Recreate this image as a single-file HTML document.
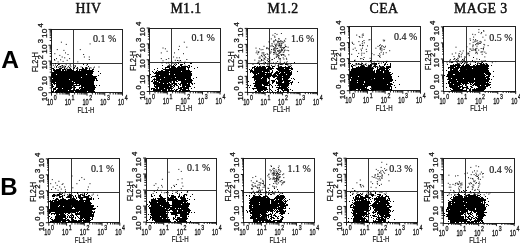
<!DOCTYPE html>
<html lang="en"><head><meta charset="utf-8"><title>FACS dot plots</title>
<style>html,body{margin:0;padding:0;background:#fff}svg{display:block}</style></head>
<body>
<svg width="520" height="244" viewBox="0 0 520 244">
<rect width="520" height="244" fill="#fff"/>
<defs><filter id="sf" x="-5%" y="-5%" width="110%" height="110%"><feGaussianBlur stdDeviation="0.45"/></filter></defs>
<g font-family="'Liberation Serif', 'Times New Roman', serif" font-size="13.8" text-anchor="middle" fill="#111" stroke="#111" stroke-width="0.45" letter-spacing="0.4">
<text x="88.4" y="13.3">HIV</text>
<text x="186" y="13.3">M1.1</text>
<text x="283" y="13.3">M1.2</text>
<text x="384" y="13.3">CEA</text>
<text x="480.8" y="13.3">MAGE 3</text>
</g>
<g font-family="'Liberation Sans', Arial, sans-serif" font-weight="bold" font-size="24" fill="#000">
<text transform="translate(1.2 67.8) scale(1.07 1)" font-size="23">A</text>
<text x="0.2" y="194.8">B</text>
</g>
<g>
<rect x="51.5" y="29.5" width="71" height="63" fill="none" stroke="#222" stroke-width="1"/>
<path d="M73.5 29.5V92.5M51.5 63.5H122.5" stroke="#2a2a2a" stroke-width="0.95" fill="none"/>
<path d="M54 59.5h1M55 63.5h1M58 64.5h1M83 64.5h1M87 64.5h1M57 65.5h1M62 65.5h1M56 66.5h1M60 66.5h1M65 66.5h1M88 66.5h1M62 67.5h1M69 67.5h1M74 67.5h1M77 67.5h1M82 67.5h1M86 67.5h1M52 68.5h2M59 68.5h3M64 68.5h1M70 68.5h1M73 68.5h1M82 68.5h2M85 68.5h2M89 68.5h1M53 69.5h2M56 69.5h5M62 69.5h4M67 69.5h5M77 69.5h1M79 69.5h8M89 69.5h1M92 69.5h2M53 70.5h8M62 70.5h2M65 70.5h1M67 70.5h7M76 70.5h2M79 70.5h1M81 70.5h12M54 71.5h40M98 71.5h1M52 72.5h41M52 73.5h41M100 73.5h1M51 74.5h5M57 74.5h29M87 74.5h5M51 75.5h42M98 75.5h1M51 76.5h46M51 77.5h30M82 77.5h14M51 78.5h1M53 78.5h44M51 79.5h18M70 79.5h25M96 79.5h1M52 80.5h43M96 80.5h2M51 81.5h21M73 81.5h21M51 82.5h4M56 82.5h18M75 82.5h19M51 83.5h1M53 83.5h41M51 84.5h2M54 84.5h1M56 84.5h17M76 84.5h1M79 84.5h15M52 85.5h1M56 85.5h17M74 85.5h6M81 85.5h14M96 85.5h1M99 85.5h1M52 86.5h2M56 86.5h16M73 86.5h2M81 86.5h14M52 87.5h1M55 87.5h18M74 87.5h2M79 87.5h4M84 87.5h12M53 88.5h3M58 88.5h4M63 88.5h9M74 88.5h1M79 88.5h1M81 88.5h14M53 89.5h3M57 89.5h14M73 89.5h2M76 89.5h3M80 89.5h15M51 90.5h1M53 90.5h1M56 90.5h12M69 90.5h25M51 91.5h3M55 91.5h19M75 91.5h12M88 91.5h7M52 92.5h1M55 92.5h5M61 92.5h2M64 92.5h6M71 92.5h3M76 92.5h13M91 92.5h2M94 92.5h1" stroke="#000" stroke-width="1" fill="none" filter="url(#sf)"/>
<path d="M55.0 65.1h1M64.6 67.9h1M56.1 67.5h1M65.7 64.8h1M52.9 65.2h1M62.4 66.3h1M65.9 70.2h1M74.0 68.1h1M70.4 66.7h1M58.9 64.3h1M63.8 67.5h1M69.6 65.0h1M58.0 67.3h1M60.4 67.4h1M69.9 65.0h1M69.3 68.1h1M54.1 67.1h1M66.1 68.6h1M61.2 65.9h1M58.9 66.8h1M74.8 66.5h1M63.3 67.0h1M68.0 66.4h1M63.7 66.1h1M86.2 65.3h1M87.1 68.3h1M67.2 67.8h1M81.3 70.3h1M85.1 67.5h1M93.0 68.1h1M90.6 68.0h1M86.9 68.1h1M98.5 67.0h1M89.5 67.6h1M80.6 66.9h1M75.0 65.8h1M94.0 67.1h1M76.2 68.4h1M77.3 68.5h1M73.4 65.5h1M76.2 68.5h1M60.9 42.2h1M65.8 44.4h1M56.8 49.6h1M63.4 50.4h1M54.3 53.7h1M65.0 52.9h1M59.3 55.4h1M67.5 54.5h1M61.7 57.0h1M56.0 58.6h1M64.2 57.8h1M69.1 58.6h1M60.1 59.8h1M66.7 60.3h1M54.3 60.3h1M62.6 61.4h1M57.6 61.9h1M79.8 49.6h1M83.1 54.5h1M83.9 57.0h1M88.8 57.0h1M88.8 59.5h1M77.3 61.9h1M89.6 43.9h1" stroke="#1a1a1a" stroke-width="1" fill="none"/>
<path d="M51.50 92.70v3M51.50 92.70h-3M56.84 92.70v1.8M51.50 87.94h-1.8M59.97 92.70v1.8M51.50 85.15h-1.8M62.19 92.70v1.8M51.50 83.17h-1.8M63.91 92.70v1.8M51.50 81.64h-1.8M65.31 92.70v1.8M51.50 80.39h-1.8M66.50 92.70v1.8M51.50 79.33h-1.8M67.53 92.70v1.8M51.50 78.41h-1.8M68.44 92.70v1.8M51.50 77.60h-1.8M69.25 92.70v3M51.50 76.88h-3M74.59 92.70v1.8M51.50 72.11h-1.8M77.72 92.70v1.8M51.50 69.32h-1.8M79.94 92.70v1.8M51.50 67.35h-1.8M81.66 92.70v1.8M51.50 65.81h-1.8M83.06 92.70v1.8M51.50 64.56h-1.8M84.25 92.70v1.8M51.50 63.50h-1.8M85.28 92.70v1.8M51.50 62.58h-1.8M86.19 92.70v1.8M51.50 61.77h-1.8M87.00 92.70v3M51.50 61.05h-3M92.34 92.70v1.8M51.50 56.29h-1.8M95.47 92.70v1.8M51.50 53.50h-1.8M97.69 92.70v1.8M51.50 51.52h-1.8M99.41 92.70v1.8M51.50 49.99h-1.8M100.81 92.70v1.8M51.50 48.74h-1.8M102.00 92.70v1.8M51.50 47.68h-1.8M103.03 92.70v1.8M51.50 46.76h-1.8M103.94 92.70v1.8M51.50 45.95h-1.8M104.75 92.70v3M51.50 45.23h-3M110.09 92.70v1.8M51.50 40.46h-1.8M113.22 92.70v1.8M51.50 37.67h-1.8M115.44 92.70v1.8M51.50 35.70h-1.8M117.16 92.70v1.8M51.50 34.16h-1.8M118.56 92.70v1.8M51.50 32.91h-1.8M119.75 92.70v1.8M51.50 31.85h-1.8M120.78 92.70v1.8M51.50 30.93h-1.8M121.69 92.70v1.8M51.50 30.12h-1.8M122.50 92.70v3M51.50 29.40h-3" stroke="#111" stroke-width="0.95" fill="none"/>
<g font-family="'Liberation Sans', Arial, sans-serif" font-weight="normal" stroke="#111" stroke-width="0.3" fill="#111">
<text transform="translate(47.00 105.40) scale(0.66 1)" font-size="8.5">10</text>
<text transform="translate(53.80 100.30) scale(0.75 1)" font-size="7">0</text>
<text transform="translate(64.75 105.40) scale(0.66 1)" font-size="8.5">10</text>
<text transform="translate(71.55 100.30) scale(0.75 1)" font-size="7">1</text>
<text transform="translate(82.50 105.40) scale(0.66 1)" font-size="8.5">10</text>
<text transform="translate(89.30 100.30) scale(0.75 1)" font-size="7">2</text>
<text transform="translate(100.25 105.40) scale(0.66 1)" font-size="8.5">10</text>
<text transform="translate(107.05 100.30) scale(0.75 1)" font-size="7">3</text>
<text transform="translate(118.00 105.40) scale(0.66 1)" font-size="8.5">10</text>
<text transform="translate(124.80 100.30) scale(0.75 1)" font-size="7">4</text>
<text transform="translate(86.00 112.60) scale(0.7 1)" font-size="8.7" stroke-width="0.2" text-anchor="middle">FL1-H</text>
<text transform="translate(46.60 101.20) scale(0.85 1) rotate(-90)" font-size="8.3">10</text>
<text transform="translate(42.50 90.80) scale(0.9 1) rotate(-90)" font-size="7.6">0</text>
<text transform="translate(46.60 85.38) scale(0.85 1) rotate(-90)" font-size="8.3">10</text>
<text transform="translate(46.60 69.55) scale(0.85 1) rotate(-90)" font-size="8.3">10</text>
<text transform="translate(42.50 59.15) scale(0.9 1) rotate(-90)" font-size="7.6">2</text>
<text transform="translate(46.60 53.73) scale(0.85 1) rotate(-90)" font-size="8.3">10</text>
<text transform="translate(42.50 43.33) scale(0.9 1) rotate(-90)" font-size="7.6">3</text>
<text transform="translate(46.60 37.90) scale(0.85 1) rotate(-90)" font-size="8.3">10</text>
<text transform="translate(42.50 27.50) scale(0.9 1) rotate(-90)" font-size="7.6">4</text>
<text transform="translate(38.20 62.05) rotate(-90) scale(0.9 1.05)" font-size="8" stroke-width="0.2" text-anchor="middle">FL2-H</text>
</g>
<text x="93" y="42.3" font-family="'Liberation Serif', 'Times New Roman', serif" font-size="10" fill="#111" stroke="#111" stroke-width="0.15">0.1 %</text>
</g>
<g>
<rect x="149.5" y="28.5" width="71" height="63" fill="none" stroke="#222" stroke-width="1"/>
<path d="M171.5 28.5V91.5M149.5 62.5H220.5" stroke="#2a2a2a" stroke-width="0.95" fill="none"/>
<path d="M177 60.5h1M180 60.5h1M177 62.5h1M178 63.5h1M184 63.5h1M190 63.5h2M174 64.5h1M176 64.5h1M180 64.5h3M162 65.5h1M173 65.5h1M175 65.5h1M180 65.5h2M188 65.5h2M167 66.5h3M171 66.5h4M178 66.5h2M181 66.5h7M189 66.5h1M191 66.5h1M165 67.5h5M171 67.5h5M177 67.5h9M187 67.5h3M197 67.5h1M157 68.5h1M162 68.5h1M165 68.5h1M169 68.5h17M188 68.5h1M194 68.5h1M154 69.5h1M163 69.5h23M188 69.5h1M157 70.5h1M161 70.5h2M165 70.5h25M152 71.5h1M156 71.5h1M158 71.5h11M170 71.5h11M182 71.5h10M153 72.5h1M155 72.5h36M154 73.5h15M170 73.5h22M150 74.5h1M156 74.5h13M170 74.5h4M175 74.5h17M155 75.5h4M160 75.5h32M152 76.5h39M151 77.5h1M156 77.5h8M165 77.5h10M176 77.5h15M196 77.5h1M154 78.5h1M156 78.5h15M172 78.5h19M193 78.5h1M153 79.5h7M161 79.5h24M186 79.5h6M152 80.5h1M154 80.5h1M156 80.5h21M178 80.5h15M151 81.5h2M154 81.5h3M158 81.5h13M173 81.5h2M176 81.5h2M181 81.5h11M153 82.5h6M160 82.5h9M170 82.5h1M173 82.5h2M181 82.5h11M153 83.5h10M164 83.5h3M168 83.5h2M172 83.5h5M178 83.5h1M180 83.5h7M188 83.5h2M191 83.5h2M194 83.5h1M154 84.5h17M172 84.5h1M174 84.5h3M179 84.5h2M182 84.5h8M192 84.5h1M154 85.5h1M156 85.5h15M173 85.5h2M176 85.5h2M180 85.5h1M182 85.5h8M154 86.5h15M170 86.5h3M174 86.5h1M178 86.5h1M182 86.5h3M186 86.5h5M155 87.5h3M159 87.5h12M173 87.5h1M178 87.5h1M180 87.5h9M194 87.5h1M151 88.5h4M156 88.5h2M159 88.5h5M165 88.5h8M178 88.5h4M183 88.5h6M191 88.5h1M151 89.5h1M153 89.5h14M168 89.5h2M171 89.5h1M174 89.5h1M176 89.5h2M180 89.5h6M188 89.5h1M153 90.5h8M162 90.5h5M168 90.5h6M175 90.5h2M179 90.5h2M182 90.5h8M156 91.5h1M158 91.5h1M160 91.5h1M162 91.5h6M172 91.5h1M175 91.5h1M177 91.5h1M179 91.5h1M181 91.5h7M190 91.5h1" stroke="#000" stroke-width="1" fill="none" filter="url(#sf)"/>
<path d="M178.8 62.2h1M175.2 63.3h1M171.0 62.1h1M184.5 62.1h1M168.1 62.4h1M167.9 65.6h1M165.9 63.1h1M178.4 60.7h1M174.2 64.1h1M167.7 63.1h1M169.2 65.5h1M170.0 65.8h1M169.1 64.3h1M175.8 62.7h1M175.5 62.4h1M169.7 62.5h1M180.6 62.2h1M161.5 62.9h1M172.5 63.5h1M171.7 62.3h1M184.5 65.2h1M162.5 48.0h1M164.9 48.8h1M160.8 52.9h1M166.6 51.3h1M160.8 58.6h1M165.8 59.5h1M168.2 58.6h1M162.5 60.8h1M183.8 42.2h1M178.9 46.3h1M186.3 47.2h1M178.1 49.6h1M174.0 52.9h1M183.0 53.7h1M173.1 57.0h1M176.4 57.8h1M178.9 57.8h1M186.3 59.5h1M174.8 60.3h1" stroke="#1a1a1a" stroke-width="1" fill="none"/>
<path d="M149.70 91.50v3M149.70 91.50h-3M155.00 91.50v1.8M149.70 86.72h-1.8M158.10 91.50v1.8M149.70 83.93h-1.8M160.30 91.50v1.8M149.70 81.94h-1.8M162.00 91.50v1.8M149.70 80.40h-1.8M163.40 91.50v1.8M149.70 79.15h-1.8M164.57 91.50v1.8M149.70 78.08h-1.8M165.59 91.50v1.8M149.70 77.16h-1.8M166.49 91.50v1.8M149.70 76.35h-1.8M167.30 91.50v3M149.70 75.62h-3M172.60 91.50v1.8M149.70 70.85h-1.8M175.70 91.50v1.8M149.70 68.05h-1.8M177.90 91.50v1.8M149.70 66.07h-1.8M179.60 91.50v1.8M149.70 64.53h-1.8M181.00 91.50v1.8M149.70 63.27h-1.8M182.17 91.50v1.8M149.70 62.21h-1.8M183.19 91.50v1.8M149.70 61.29h-1.8M184.09 91.50v1.8M149.70 60.48h-1.8M184.90 91.50v3M149.70 59.75h-3M190.20 91.50v1.8M149.70 54.97h-1.8M193.30 91.50v1.8M149.70 52.18h-1.8M195.50 91.50v1.8M149.70 50.19h-1.8M197.20 91.50v1.8M149.70 48.65h-1.8M198.60 91.50v1.8M149.70 47.40h-1.8M199.77 91.50v1.8M149.70 46.33h-1.8M200.79 91.50v1.8M149.70 45.41h-1.8M201.69 91.50v1.8M149.70 44.60h-1.8M202.50 91.50v3M149.70 43.88h-3M207.80 91.50v1.8M149.70 39.10h-1.8M210.90 91.50v1.8M149.70 36.30h-1.8M213.10 91.50v1.8M149.70 34.32h-1.8M214.80 91.50v1.8M149.70 32.78h-1.8M216.20 91.50v1.8M149.70 31.52h-1.8M217.37 91.50v1.8M149.70 30.46h-1.8M218.39 91.50v1.8M149.70 29.54h-1.8M219.29 91.50v1.8M149.70 28.73h-1.8M220.10 91.50v3M149.70 28.00h-3" stroke="#111" stroke-width="0.95" fill="none"/>
<g font-family="'Liberation Sans', Arial, sans-serif" font-weight="normal" stroke="#111" stroke-width="0.3" fill="#111">
<text transform="translate(145.20 104.20) scale(0.66 1)" font-size="8.5">10</text>
<text transform="translate(152.00 99.10) scale(0.75 1)" font-size="7">0</text>
<text transform="translate(162.80 104.20) scale(0.66 1)" font-size="8.5">10</text>
<text transform="translate(169.60 99.10) scale(0.75 1)" font-size="7">1</text>
<text transform="translate(180.40 104.20) scale(0.66 1)" font-size="8.5">10</text>
<text transform="translate(187.20 99.10) scale(0.75 1)" font-size="7">2</text>
<text transform="translate(198.00 104.20) scale(0.66 1)" font-size="8.5">10</text>
<text transform="translate(204.80 99.10) scale(0.75 1)" font-size="7">3</text>
<text transform="translate(215.60 104.20) scale(0.66 1)" font-size="8.5">10</text>
<text transform="translate(222.40 99.10) scale(0.75 1)" font-size="7">4</text>
<text transform="translate(183.90 111.40) scale(0.7 1)" font-size="8.7" stroke-width="0.2" text-anchor="middle">FL1-H</text>
<text transform="translate(144.80 100.00) scale(0.85 1) rotate(-90)" font-size="8.3">10</text>
<text transform="translate(140.70 89.60) scale(0.9 1) rotate(-90)" font-size="7.6">0</text>
<text transform="translate(144.80 84.12) scale(0.85 1) rotate(-90)" font-size="8.3">10</text>
<text transform="translate(144.80 68.25) scale(0.85 1) rotate(-90)" font-size="8.3">10</text>
<text transform="translate(140.70 57.85) scale(0.9 1) rotate(-90)" font-size="7.6">2</text>
<text transform="translate(144.80 52.38) scale(0.85 1) rotate(-90)" font-size="8.3">10</text>
<text transform="translate(140.70 41.98) scale(0.9 1) rotate(-90)" font-size="7.6">3</text>
<text transform="translate(144.80 36.50) scale(0.85 1) rotate(-90)" font-size="8.3">10</text>
<text transform="translate(140.70 26.10) scale(0.9 1) rotate(-90)" font-size="7.6">4</text>
<text transform="translate(136.40 60.75) rotate(-90) scale(0.9 1.05)" font-size="8" stroke-width="0.2" text-anchor="middle">FL2-H</text>
</g>
<text x="191.5" y="41.2" font-family="'Liberation Serif', 'Times New Roman', serif" font-size="10" fill="#111" stroke="#111" stroke-width="0.15">0.1 %</text>
</g>
<g>
<rect x="247.5" y="28.5" width="70" height="64" fill="none" stroke="#222" stroke-width="1"/>
<path d="M269.5 28.5V92.5M247.5 63.5H317.5" stroke="#2a2a2a" stroke-width="0.95" fill="none"/>
<path d="M269 57.5h1M261 59.5h1M269 60.5h1M268 61.5h1M265 62.5h1M294 62.5h1M257 63.5h1M261 63.5h1M283 63.5h1M291 63.5h1M259 64.5h1M280 64.5h1M285 64.5h2M278 65.5h1M254 66.5h2M257 66.5h1M259 66.5h2M262 66.5h3M266 66.5h4M272 66.5h3M278 66.5h1M280 66.5h2M285 66.5h1M288 66.5h3M252 67.5h3M256 67.5h10M268 67.5h3M272 67.5h1M278 67.5h12M291 67.5h1M252 68.5h1M254 68.5h12M267 68.5h7M276 68.5h8M285 68.5h8M249 69.5h1M251 69.5h1M254 69.5h15M270 69.5h2M277 69.5h12M291 69.5h2M250 70.5h3M254 70.5h15M272 70.5h1M278 70.5h13M250 71.5h12M263 71.5h7M272 71.5h1M276 71.5h2M279 71.5h11M291 71.5h1M297 71.5h1M250 72.5h1M252 72.5h13M267 72.5h1M271 72.5h2M275 72.5h5M281 72.5h3M285 72.5h7M253 73.5h5M259 73.5h13M274 73.5h5M280 73.5h12M254 74.5h2M257 74.5h8M266 74.5h6M273 74.5h3M277 74.5h9M287 74.5h5M254 75.5h23M278 75.5h13M253 76.5h18M272 76.5h10M283 76.5h7M252 77.5h10M263 77.5h6M273 77.5h2M277 77.5h13M254 78.5h7M262 78.5h5M268 78.5h2M276 78.5h6M283 78.5h6M291 78.5h1M293 78.5h1M254 79.5h13M275 79.5h1M277 79.5h5M283 79.5h5M294 79.5h1M254 80.5h1M256 80.5h11M271 80.5h4M278 80.5h13M248 81.5h1M255 81.5h12M268 81.5h1M272 81.5h3M276 81.5h1M278 81.5h5M284 81.5h6M292 81.5h1M255 82.5h14M272 82.5h2M276 82.5h6M284 82.5h5M290 82.5h3M298 82.5h1M253 83.5h16M272 83.5h1M276 83.5h14M291 83.5h1M255 84.5h7M263 84.5h5M269 84.5h2M278 84.5h11M291 84.5h1M248 85.5h1M250 85.5h1M254 85.5h8M264 85.5h6M271 85.5h1M275 85.5h1M277 85.5h12M254 86.5h11M272 86.5h1M279 86.5h1M281 86.5h7M249 87.5h1M256 87.5h11M272 87.5h1M276 87.5h11M288 87.5h1M252 88.5h15M269 88.5h1M278 88.5h10M253 89.5h1M257 89.5h11M270 89.5h1M277 89.5h2M281 89.5h2M284 89.5h5M290 89.5h1M257 90.5h6M264 90.5h2M271 90.5h1M275 90.5h1M278 90.5h1M282 90.5h7M292 90.5h1M255 91.5h2M258 91.5h3M263 91.5h1M267 91.5h1M272 91.5h1M277 91.5h2M280 91.5h1M283 91.5h1M287 91.5h2" stroke="#000" stroke-width="1" fill="none" filter="url(#sf)"/>
<path d="M269.0 52.3h1M266.1 48.6h1M259.6 58.2h1M260.6 49.8h1M264.1 58.6h1M268.6 56.3h1M266.4 47.6h1M263.4 58.1h1M267.1 58.8h1M267.4 54.5h1M263.5 46.3h1M269.3 58.1h1M264.4 59.6h1M262.5 52.8h1M257.6 62.4h1M259.5 61.2h1M257.2 54.1h1M258.4 60.8h1M262.8 54.2h1M260.9 55.6h1M270.3 46.1h1M254.3 60.1h1M255.5 48.1h1M257.7 52.5h1M258.2 52.6h1M257.7 63.1h1M262.9 60.2h1M261.5 53.0h1M256.4 51.1h1M260.9 60.7h1M263.4 52.9h1M265.3 57.6h1M259.4 56.9h1M261.8 56.7h1M258.3 51.6h1M259.1 48.8h1M269.1 63.3h1M267.4 48.3h1M264.7 54.5h1M266.7 53.8h1M261.1 60.2h1M258.4 62.2h1M271.9 59.5h1M268.0 59.0h1M263.8 62.0h1M255.7 52.8h1M258.6 58.0h1M264.9 56.8h1M263.7 55.4h1M261.2 55.3h1M261.4 60.4h1M266.8 60.5h1M263.8 55.8h1M267.6 62.0h1M271.1 49.5h1M262.4 49.6h1M275.7 44.4h1M281.1 50.6h1M279.5 50.4h1M277.7 41.4h1M279.7 47.6h1M279.2 45.5h1M275.9 56.2h1M279.7 62.6h1M271.6 45.2h1M277.7 65.5h1M285.2 38.8h1M278.6 39.1h1M278.5 58.8h1M284.0 47.5h1M280.4 42.0h1M271.4 59.7h1M283.2 48.2h1M283.8 47.4h1M268.9 50.1h1M280.8 45.8h1M284.4 41.4h1M274.2 36.2h1M275.7 52.9h1M275.9 46.0h1M275.0 45.4h1M274.3 44.2h1M283.5 55.2h1M274.5 53.8h1M273.6 48.2h1M276.8 48.5h1M286.2 59.3h1M284.6 50.1h1M278.7 52.1h1M286.6 50.4h1M273.1 41.8h1M285.3 46.7h1M276.8 56.3h1M273.0 52.5h1M270.4 52.7h1M282.3 54.4h1M280.6 43.6h1M274.6 48.3h1M282.8 52.3h1M282.7 54.9h1M278.7 55.9h1M283.9 40.4h1M278.3 38.6h1M275.9 54.3h1M268.5 41.8h1M268.9 42.1h1M281.0 48.1h1M275.8 48.8h1M279.1 53.1h1M276.9 54.4h1M272.4 35.2h1M281.7 47.6h1M287.6 47.2h1M282.4 41.8h1M271.7 46.1h1M278.4 43.1h1M277.2 50.6h1M278.2 57.6h1M283.9 50.4h1M277.6 42.0h1M274.6 33.5h1M270.5 51.3h1M283.7 51.8h1M282.4 64.2h1M274.5 49.8h1M270.8 38.9h1M274.4 37.3h1M280.2 47.1h1M279.9 52.2h1M278.7 45.2h1M274.8 65.0h1M271.5 43.6h1M273.2 54.2h1M284.7 45.0h1M282.0 49.8h1M274.8 50.7h1M274.2 47.9h1M279.9 58.9h1M279.5 59.0h1M275.1 46.0h1M280.5 54.6h1M281.1 44.9h1M275.1 51.9h1M278.9 43.7h1M281.7 50.5h1M275.2 47.2h1M278.8 50.2h1M275.1 39.7h1M278.5 46.3h1M278.1 55.4h1M277.6 45.2h1M283.3 48.8h1M285.0 46.4h1M283.2 54.5h1M277.2 48.3h1M279.2 52.8h1M277.4 51.3h1M275.4 40.5h1M276.5 43.9h1M278.5 51.0h1M273.7 51.0h1M272.9 49.8h1M284.7 56.2h1M273.6 40.7h1M273.6 41.8h1M280.1 40.9h1M281.7 41.9h1M282.7 57.8h1M277.6 41.2h1M278.0 57.1h1M280.7 41.0h1M279.4 44.7h1M279.1 41.6h1M278.0 53.8h1M285.9 58.3h1M269.5 53.6h1M275.8 57.4h1M280.9 33.5h1M281.2 54.8h1M283.2 42.7h1M288.1 50.7h1M281.0 55.4h1M288.3 54.8h1M280.5 51.3h1M273.9 58.4h1M280.4 45.7h1M278.7 45.2h1M280.3 52.0h1M281.5 43.5h1M280.4 46.1h1M277.1 42.0h1M282.7 47.7h1M277.4 55.4h1M276.5 34.4h1M277.8 51.1h1M273.1 46.5h1M279.5 58.6h1M283.4 59.1h1M274.0 52.6h1M285.5 46.6h1M273.3 49.0h1M280.9 49.5h1M275.6 62.9h1M273.7 50.1h1M268.1 48.9h1M272.9 62.8h1M285.5 63.6h1M279.6 64.5h1M287.5 64.7h1M279.8 61.0h1M266.5 63.5h1M287.3 65.2h1M281.4 63.9h1M267.6 65.0h1M289.1 66.3h1M271.1 65.4h1M279.4 66.6h1M252.5 64.4h1M278.3 63.6h1M260.3 66.1h1M290.8 65.6h1M269.4 61.0h1M283.9 62.4h1M263.7 64.4h1M261.5 63.7h1M286.8 64.5h1M285.9 62.7h1M280.9 64.5h1M278.1 64.2h1M268.6 63.5h1M286.7 61.7h1M278.2 64.1h1M267.3 64.7h1M277.1 61.5h1M270.6 63.2h1M281.6 64.6h1M286.1 63.7h1M289.8 64.2h1M271.0 65.6h1M276.3 63.4h1M262.9 63.1h1M277.6 65.8h1" stroke="#1a1a1a" stroke-width="1" fill="none"/>
<path d="M247.65 92.30v3M247.65 92.30h-3M252.91 92.30v1.8M247.65 87.49h-1.8M255.98 92.30v1.8M247.65 84.68h-1.8M258.16 92.30v1.8M247.65 82.68h-1.8M259.86 92.30v1.8M247.65 81.13h-1.8M261.24 92.30v1.8M247.65 79.87h-1.8M262.41 92.30v1.8M247.65 78.80h-1.8M263.42 92.30v1.8M247.65 77.87h-1.8M264.31 92.30v1.8M247.65 77.06h-1.8M265.11 92.30v3M247.65 76.33h-3M270.37 92.30v1.8M247.65 71.52h-1.8M273.44 92.30v1.8M247.65 68.70h-1.8M275.63 92.30v1.8M247.65 66.71h-1.8M277.32 92.30v1.8M247.65 65.16h-1.8M278.70 92.30v1.8M247.65 63.89h-1.8M279.87 92.30v1.8M247.65 62.82h-1.8M280.88 92.30v1.8M247.65 61.90h-1.8M281.78 92.30v1.8M247.65 61.08h-1.8M282.57 92.30v3M247.65 60.35h-3M287.83 92.30v1.8M247.65 55.54h-1.8M290.91 92.30v1.8M247.65 52.73h-1.8M293.09 92.30v1.8M247.65 50.73h-1.8M294.78 92.30v1.8M247.65 49.18h-1.8M296.16 92.30v1.8M247.65 47.92h-1.8M297.33 92.30v1.8M247.65 46.85h-1.8M298.35 92.30v1.8M247.65 45.92h-1.8M299.24 92.30v1.8M247.65 45.11h-1.8M300.04 92.30v3M247.65 44.38h-3M305.29 92.30v1.8M247.65 39.57h-1.8M308.37 92.30v1.8M247.65 36.75h-1.8M310.55 92.30v1.8M247.65 34.76h-1.8M312.24 92.30v1.8M247.65 33.21h-1.8M313.63 92.30v1.8M247.65 31.94h-1.8M314.80 92.30v1.8M247.65 30.87h-1.8M315.81 92.30v1.8M247.65 29.95h-1.8M316.70 92.30v1.8M247.65 29.13h-1.8M317.50 92.30v3M247.65 28.40h-3" stroke="#111" stroke-width="0.95" fill="none"/>
<g font-family="'Liberation Sans', Arial, sans-serif" font-weight="normal" stroke="#111" stroke-width="0.3" fill="#111">
<text transform="translate(243.15 105.00) scale(0.66 1)" font-size="8.5">10</text>
<text transform="translate(249.95 99.90) scale(0.75 1)" font-size="7">0</text>
<text transform="translate(260.61 105.00) scale(0.66 1)" font-size="8.5">10</text>
<text transform="translate(267.41 99.90) scale(0.75 1)" font-size="7">1</text>
<text transform="translate(278.07 105.00) scale(0.66 1)" font-size="8.5">10</text>
<text transform="translate(284.88 99.90) scale(0.75 1)" font-size="7">2</text>
<text transform="translate(295.54 105.00) scale(0.66 1)" font-size="8.5">10</text>
<text transform="translate(302.34 99.90) scale(0.75 1)" font-size="7">3</text>
<text transform="translate(313.00 105.00) scale(0.66 1)" font-size="8.5">10</text>
<text transform="translate(319.80 99.90) scale(0.75 1)" font-size="7">4</text>
<text transform="translate(281.57 112.20) scale(0.7 1)" font-size="8.7" stroke-width="0.2" text-anchor="middle">FL1-H</text>
<text transform="translate(242.75 100.80) scale(0.85 1) rotate(-90)" font-size="8.3">10</text>
<text transform="translate(238.65 90.40) scale(0.9 1) rotate(-90)" font-size="7.6">0</text>
<text transform="translate(242.75 84.83) scale(0.85 1) rotate(-90)" font-size="8.3">10</text>
<text transform="translate(242.75 68.85) scale(0.85 1) rotate(-90)" font-size="8.3">10</text>
<text transform="translate(238.65 58.45) scale(0.9 1) rotate(-90)" font-size="7.6">2</text>
<text transform="translate(242.75 52.88) scale(0.85 1) rotate(-90)" font-size="8.3">10</text>
<text transform="translate(238.65 42.48) scale(0.9 1) rotate(-90)" font-size="7.6">3</text>
<text transform="translate(242.75 36.90) scale(0.85 1) rotate(-90)" font-size="8.3">10</text>
<text transform="translate(238.65 26.50) scale(0.9 1) rotate(-90)" font-size="7.6">4</text>
<text transform="translate(234.35 61.35) rotate(-90) scale(0.9 1.05)" font-size="8" stroke-width="0.2" text-anchor="middle">FL2-H</text>
</g>
<text x="291" y="41.8" font-family="'Liberation Serif', 'Times New Roman', serif" font-size="10" fill="#111" stroke="#111" stroke-width="0.15">1.6 %</text>
</g>
<g>
<rect x="349.5" y="26.5" width="71" height="64" fill="none" stroke="#222" stroke-width="1"/>
<path d="M371.5 26.5V90.5M349.5 61.5H420.5" stroke="#2a2a2a" stroke-width="0.95" fill="none"/>
<path d="M357 56.5h1M363 59.5h1M354 60.5h1M383 62.5h1M386 62.5h1M350 63.5h1M356 63.5h1M358 63.5h1M362 63.5h1M372 63.5h5M378 63.5h1M385 63.5h1M390 63.5h1M352 64.5h1M360 64.5h2M365 64.5h1M370 64.5h2M374 64.5h3M384 64.5h2M387 64.5h1M390 64.5h1M351 65.5h1M353 65.5h1M361 65.5h3M368 65.5h4M374 65.5h2M379 65.5h1M384 65.5h1M390 65.5h1M351 66.5h2M358 66.5h1M360 66.5h5M368 66.5h3M373 66.5h4M379 66.5h2M382 66.5h2M386 66.5h5M352 67.5h1M356 67.5h15M372 67.5h1M375 67.5h1M377 67.5h1M380 67.5h5M386 67.5h5M352 68.5h22M377 68.5h1M379 68.5h10M351 69.5h22M377 69.5h8M386 69.5h2M389 69.5h1M351 70.5h22M374 70.5h1M376 70.5h4M381 70.5h8M350 71.5h25M376 71.5h7M384 71.5h5M350 72.5h25M376 72.5h7M384 72.5h7M350 73.5h40M392 73.5h1M350 74.5h42M350 75.5h41M350 76.5h8M359 76.5h33M398 76.5h1M350 77.5h1M352 77.5h40M350 78.5h24M375 78.5h8M384 78.5h8M351 79.5h20M372 79.5h21M351 80.5h6M358 80.5h35M395 80.5h1M350 81.5h14M365 81.5h27M350 82.5h7M358 82.5h6M365 82.5h25M393 82.5h1M350 83.5h42M350 84.5h13M364 84.5h23M388 84.5h5M399 84.5h1M350 85.5h41M394 85.5h1M350 86.5h18M371 86.5h21M350 87.5h15M366 87.5h1M372 87.5h18M391 87.5h1M395 87.5h1M350 88.5h17M370 88.5h1M372 88.5h18M391 88.5h1M350 89.5h6M358 89.5h2M361 89.5h8M371 89.5h21M350 90.5h2M356 90.5h1M358 90.5h1M360 90.5h7M369 90.5h5M375 90.5h1M383 90.5h5M391 90.5h1" stroke="#000" stroke-width="1" fill="none" filter="url(#sf)"/>
<path d="M365.8 49.4h1M362.2 45.4h1M358.8 36.5h1M361.8 37.2h1M363.8 42.8h1M355.9 50.6h1M359.7 45.5h1M360.0 58.7h1M369.6 58.3h1M353.3 44.3h1M361.8 43.3h1M359.6 45.0h1M361.8 35.0h1M368.5 39.9h1M362.2 45.6h1M361.9 45.7h1M361.4 58.6h1M357.6 67.7h1M361.0 50.7h1M354.7 48.1h1M362.6 34.0h1M351.7 42.3h1M361.1 55.1h1M352.0 43.4h1M356.2 35.1h1M358.4 41.6h1M358.2 53.4h1M362.8 35.3h1M371.4 53.6h1M363.6 53.3h1M367.0 45.9h1M362.4 45.3h1M362.1 41.6h1M360.6 49.2h1M366.2 51.6h1M363.6 57.5h1M370.0 60.5h1M363.5 40.5h1M351.2 54.3h1M362.0 48.1h1M354.6 60.2h1M352.7 49.3h1M361.3 53.2h1M367.1 67.1h1M359.4 37.3h1M369.4 39.6h1M385.7 52.7h1M379.0 45.6h1M377.3 61.1h1M383.6 49.5h1M380.1 48.1h1M389.2 50.7h1M379.0 56.5h1M385.0 46.3h1M384.1 40.3h1M380.2 49.7h1M381.6 45.7h1M386.1 61.4h1M383.0 52.9h1M375.4 48.2h1M379.5 55.2h1M383.5 41.1h1M379.9 44.8h1M381.2 46.3h1M377.8 55.5h1M382.8 40.1h1M377.5 46.4h1M381.4 50.7h1M382.7 54.3h1M373.5 54.7h1M379.1 53.8h1M381.5 49.0h1M379.6 49.0h1M380.7 48.0h1M379.7 57.3h1M379.8 47.8h1M380.6 52.3h1M384.3 47.6h1M383.1 46.8h1M358.0 64.2h1M365.5 63.4h1M373.9 62.1h1M376.8 66.5h1M355.6 64.0h1M382.2 67.1h1M361.4 65.3h1M372.1 64.2h1M355.4 63.9h1M358.6 63.8h1M373.0 66.9h1M361.1 63.1h1M363.7 68.2h1M364.2 65.0h1M385.4 61.6h1M374.1 64.8h1M359.4 64.5h1M370.4 61.9h1M368.7 65.8h1M362.8 64.8h1M355.3 65.8h1M375.0 66.0h1M374.8 64.6h1M359.4 64.3h1M378.7 63.1h1M370.3 61.6h1M354.0 65.4h1M361.2 63.4h1M357.3 64.3h1M380.9 63.1h1M373.2 63.3h1M360.8 65.8h1M374.8 66.8h1M378.5 67.3h1M386.7 61.4h1M372.5 63.6h1M373.2 64.2h1M368.4 61.7h1M373.9 65.4h1M384.5 64.2h1M381.3 66.6h1M366.0 65.3h1M379.9 66.5h1M360.5 64.6h1M371.0 64.4h1M356.1 64.4h1M368.1 65.2h1" stroke="#1a1a1a" stroke-width="1" fill="none"/>
<path d="M349.80 90.70v3M349.80 90.70h-3M355.12 90.70v1.8M349.80 85.88h-1.8M358.23 90.70v1.8M349.80 83.05h-1.8M360.44 90.70v1.8M349.80 81.05h-1.8M362.15 90.70v1.8M349.80 79.50h-1.8M363.55 90.70v1.8M349.80 78.23h-1.8M364.74 90.70v1.8M349.80 77.16h-1.8M365.76 90.70v1.8M349.80 76.23h-1.8M366.67 90.70v1.8M349.80 75.41h-1.8M367.48 90.70v3M349.80 74.68h-3M372.80 90.70v1.8M349.80 69.85h-1.8M375.91 90.70v1.8M349.80 67.03h-1.8M378.12 90.70v1.8M349.80 65.03h-1.8M379.83 90.70v1.8M349.80 63.47h-1.8M381.23 90.70v1.8M349.80 62.21h-1.8M382.41 90.70v1.8M349.80 61.13h-1.8M383.44 90.70v1.8M349.80 60.20h-1.8M384.34 90.70v1.8M349.80 59.38h-1.8M385.15 90.70v3M349.80 58.65h-3M390.47 90.70v1.8M349.80 53.83h-1.8M393.58 90.70v1.8M349.80 51.00h-1.8M395.79 90.70v1.8M349.80 49.00h-1.8M397.50 90.70v1.8M349.80 47.45h-1.8M398.90 90.70v1.8M349.80 46.18h-1.8M400.09 90.70v1.8M349.80 45.11h-1.8M401.11 90.70v1.8M349.80 44.18h-1.8M402.02 90.70v1.8M349.80 43.36h-1.8M402.82 90.70v3M349.80 42.63h-3M408.15 90.70v1.8M349.80 37.80h-1.8M411.26 90.70v1.8M349.80 34.98h-1.8M413.47 90.70v1.8M349.80 32.98h-1.8M415.18 90.70v1.8M349.80 31.42h-1.8M416.58 90.70v1.8M349.80 30.16h-1.8M417.76 90.70v1.8M349.80 29.08h-1.8M418.79 90.70v1.8M349.80 28.15h-1.8M419.69 90.70v1.8M349.80 27.33h-1.8M420.50 90.70v3M349.80 26.60h-3" stroke="#111" stroke-width="0.95" fill="none"/>
<g font-family="'Liberation Sans', Arial, sans-serif" font-weight="normal" stroke="#111" stroke-width="0.3" fill="#111">
<text transform="translate(345.30 103.40) scale(0.66 1)" font-size="8.5">10</text>
<text transform="translate(352.10 98.30) scale(0.75 1)" font-size="7">0</text>
<text transform="translate(362.98 103.40) scale(0.66 1)" font-size="8.5">10</text>
<text transform="translate(369.78 98.30) scale(0.75 1)" font-size="7">1</text>
<text transform="translate(380.65 103.40) scale(0.66 1)" font-size="8.5">10</text>
<text transform="translate(387.45 98.30) scale(0.75 1)" font-size="7">2</text>
<text transform="translate(398.32 103.40) scale(0.66 1)" font-size="8.5">10</text>
<text transform="translate(405.12 98.30) scale(0.75 1)" font-size="7">3</text>
<text transform="translate(416.00 103.40) scale(0.66 1)" font-size="8.5">10</text>
<text transform="translate(422.80 98.30) scale(0.75 1)" font-size="7">4</text>
<text transform="translate(384.15 110.60) scale(0.7 1)" font-size="8.7" stroke-width="0.2" text-anchor="middle">FL1-H</text>
<text transform="translate(344.90 99.20) scale(0.85 1) rotate(-90)" font-size="8.3">10</text>
<text transform="translate(340.80 88.80) scale(0.9 1) rotate(-90)" font-size="7.6">0</text>
<text transform="translate(344.90 83.18) scale(0.85 1) rotate(-90)" font-size="8.3">10</text>
<text transform="translate(344.90 67.15) scale(0.85 1) rotate(-90)" font-size="8.3">10</text>
<text transform="translate(340.80 56.75) scale(0.9 1) rotate(-90)" font-size="7.6">2</text>
<text transform="translate(344.90 51.13) scale(0.85 1) rotate(-90)" font-size="8.3">10</text>
<text transform="translate(340.80 40.73) scale(0.9 1) rotate(-90)" font-size="7.6">3</text>
<text transform="translate(344.90 35.10) scale(0.85 1) rotate(-90)" font-size="8.3">10</text>
<text transform="translate(340.80 24.70) scale(0.9 1) rotate(-90)" font-size="7.6">4</text>
<text transform="translate(336.50 59.65) rotate(-90) scale(0.9 1.05)" font-size="8" stroke-width="0.2" text-anchor="middle">FL2-H</text>
</g>
<text x="394" y="40.4" font-family="'Liberation Serif', 'Times New Roman', serif" font-size="10" fill="#111" stroke="#111" stroke-width="0.15">0.4 %</text>
</g>
<g>
<rect x="443.5" y="26.5" width="72" height="65" fill="none" stroke="#222" stroke-width="1"/>
<path d="M466.5 26.5V91.5M443.5 61.5H515.5" stroke="#2a2a2a" stroke-width="0.95" fill="none"/>
<path d="M473 57.5h1M462 59.5h1M472 60.5h1M456 61.5h1M465 61.5h1M451 62.5h1M462 62.5h1M475 62.5h1M482 62.5h1M457 63.5h1M461 63.5h1M464 63.5h1M477 63.5h1M479 63.5h3M483 63.5h1M486 63.5h1M447 64.5h1M453 64.5h1M455 64.5h5M463 64.5h1M466 64.5h3M470 64.5h1M475 64.5h1M477 64.5h1M480 64.5h5M486 64.5h2M450 65.5h11M462 65.5h2M465 65.5h5M473 65.5h2M476 65.5h13M491 65.5h1M450 66.5h6M457 66.5h3M461 66.5h28M448 67.5h6M455 67.5h33M448 68.5h1M450 68.5h9M460 68.5h12M473 68.5h16M450 69.5h2M453 69.5h5M460 69.5h6M467 69.5h21M446 70.5h1M450 70.5h8M459 70.5h30M448 71.5h11M460 71.5h29M493 71.5h1M448 72.5h42M448 73.5h36M485 73.5h6M447 74.5h6M455 74.5h30M486 74.5h5M444 75.5h1M447 75.5h39M488 75.5h2M446 76.5h39M486 76.5h4M493 76.5h1M448 77.5h41M448 78.5h3M452 78.5h11M464 78.5h10M475 78.5h11M487 78.5h3M447 79.5h9M457 79.5h17M475 79.5h15M491 79.5h1M449 80.5h40M448 81.5h9M458 81.5h31M448 82.5h2M451 82.5h17M469 82.5h5M475 82.5h11M487 82.5h1M489 82.5h2M446 83.5h1M448 83.5h13M462 83.5h7M470 83.5h1M472 83.5h1M474 83.5h15M449 84.5h4M454 84.5h8M463 84.5h1M465 84.5h1M470 84.5h2M473 84.5h18M449 85.5h11M462 85.5h1M465 85.5h1M472 85.5h2M475 85.5h5M481 85.5h4M486 85.5h4M449 86.5h9M459 86.5h4M467 86.5h1M470 86.5h2M477 86.5h11M446 87.5h1M450 87.5h11M462 87.5h6M471 87.5h2M478 87.5h8M490 87.5h1M452 88.5h8M462 88.5h2M467 88.5h2M470 88.5h1M474 88.5h1M476 88.5h10M450 89.5h1M453 89.5h10M466 89.5h1M469 89.5h2M472 89.5h13M451 90.5h16M469 90.5h2M472 90.5h12" stroke="#000" stroke-width="1" fill="none" filter="url(#sf)"/>
<path d="M453.3 59.5h1M457.0 62.0h1M455.5 47.2h1M461.7 53.1h1M457.5 58.2h1M458.1 56.1h1M455.2 53.0h1M458.9 57.1h1M451.9 62.5h1M463.8 59.6h1M463.9 58.5h1M458.2 55.1h1M451.8 54.0h1M454.2 58.6h1M460.8 54.7h1M456.8 63.0h1M457.8 61.4h1M462.7 50.9h1M455.3 60.7h1M459.7 51.3h1M458.7 53.5h1M454.2 58.8h1M456.0 59.5h1M464.4 56.6h1M453.5 56.6h1M457.3 58.8h1M461.2 61.8h1M460.8 56.8h1M459.0 56.2h1M464.5 57.5h1M449.4 60.7h1M457.7 60.6h1M481.7 54.3h1M474.7 34.7h1M483.4 44.4h1M484.3 56.9h1M472.3 46.8h1M475.0 44.7h1M468.1 53.6h1M476.5 43.9h1M475.4 50.8h1M482.6 48.5h1M480.6 33.6h1M475.3 49.1h1M485.4 35.1h1M470.4 49.2h1M475.4 48.8h1M472.2 34.3h1M472.7 42.3h1M480.5 52.1h1M481.3 51.9h1M469.5 48.9h1M469.2 51.7h1M476.3 58.9h1M466.8 54.0h1M468.8 55.6h1M477.1 40.8h1M482.4 37.2h1M485.5 53.3h1M479.7 41.4h1M475.1 39.6h1M483.0 48.4h1M475.9 52.3h1M483.3 47.1h1M479.5 42.0h1M476.4 52.3h1M473.7 49.8h1M476.8 53.7h1M471.4 50.5h1M475.7 41.0h1M477.7 43.0h1M472.6 44.9h1M466.4 46.8h1M475.0 49.6h1M481.1 32.5h1M476.4 48.3h1M482.3 51.8h1M476.2 43.7h1M478.4 29.6h1M480.7 48.5h1M472.6 50.2h1M474.9 50.3h1M477.3 43.0h1M472.6 48.8h1M483.0 30.8h1M478.3 32.3h1M479.0 59.5h1M476.5 46.2h1M467.5 53.0h1M480.1 43.3h1M482.9 49.7h1M483.4 31.1h1M477.7 44.2h1M480.9 42.1h1M472.9 39.7h1M478.2 50.1h1M474.4 41.8h1M484.4 40.2h1M469.6 38.8h1M469.4 43.8h1M484.3 52.1h1M468.4 54.0h1M479.2 43.5h1M487.6 45.6h1M474.6 40.9h1M473.1 37.1h1M475.1 53.1h1M484.1 44.9h1M472.6 45.7h1M469.9 40.3h1M479.8 63.9h1M473.5 62.0h1M452.1 62.4h1M461.4 60.7h1M467.6 64.6h1M452.3 61.9h1M449.4 62.5h1M486.1 63.8h1M464.1 61.6h1M474.3 61.3h1M478.4 63.2h1M446.5 62.8h1M464.9 62.7h1M484.9 63.8h1M481.9 65.1h1M466.8 62.9h1M477.5 62.8h1M459.3 63.3h1M459.8 62.0h1M456.0 61.9h1M464.4 61.6h1M491.8 62.7h1M457.7 63.9h1M484.8 60.7h1M471.7 61.6h1M470.2 62.0h1M450.9 62.6h1M482.8 61.2h1M468.6 61.5h1M462.8 61.7h1M463.8 60.5h1M457.3 60.2h1M462.9 60.2h1M466.8 62.1h1M469.7 63.6h1M463.8 63.0h1M481.0 62.3h1M457.8 63.5h1M483.7 61.1h1M481.3 61.0h1M449.9 59.6h1M495.2 61.6h1M457.1 63.6h1" stroke="#1a1a1a" stroke-width="1" fill="none"/>
<path d="M443.90 91.10v3M443.90 91.10h-3M449.30 91.10v1.8M443.90 86.26h-1.8M452.46 91.10v1.8M443.90 83.44h-1.8M454.71 91.10v1.8M443.90 81.43h-1.8M456.45 91.10v1.8M443.90 79.87h-1.8M457.87 91.10v1.8M443.90 78.60h-1.8M459.07 91.10v1.8M443.90 77.53h-1.8M460.11 91.10v1.8M443.90 76.59h-1.8M461.03 91.10v1.8M443.90 75.77h-1.8M461.85 91.10v3M443.90 75.04h-3M467.25 91.10v1.8M443.90 70.20h-1.8M470.41 91.10v1.8M443.90 67.37h-1.8M472.66 91.10v1.8M443.90 65.37h-1.8M474.40 91.10v1.8M443.90 63.81h-1.8M475.82 91.10v1.8M443.90 62.54h-1.8M477.02 91.10v1.8M443.90 61.46h-1.8M478.06 91.10v1.8M443.90 60.53h-1.8M478.98 91.10v1.8M443.90 59.71h-1.8M479.80 91.10v3M443.90 58.97h-3M485.20 91.10v1.8M443.90 54.14h-1.8M488.36 91.10v1.8M443.90 51.31h-1.8M490.61 91.10v1.8M443.90 49.30h-1.8M492.35 91.10v1.8M443.90 47.75h-1.8M493.77 91.10v1.8M443.90 46.48h-1.8M494.97 91.10v1.8M443.90 45.40h-1.8M496.01 91.10v1.8M443.90 44.47h-1.8M496.93 91.10v1.8M443.90 43.65h-1.8M497.75 91.10v3M443.90 42.91h-3M503.15 91.10v1.8M443.90 38.08h-1.8M506.31 91.10v1.8M443.90 35.25h-1.8M508.56 91.10v1.8M443.90 33.24h-1.8M510.30 91.10v1.8M443.90 31.69h-1.8M511.72 91.10v1.8M443.90 30.41h-1.8M512.92 91.10v1.8M443.90 29.34h-1.8M513.96 91.10v1.8M443.90 28.41h-1.8M514.88 91.10v1.8M443.90 27.58h-1.8M515.70 91.10v3M443.90 26.85h-3" stroke="#111" stroke-width="0.95" fill="none"/>
<g font-family="'Liberation Sans', Arial, sans-serif" font-weight="normal" stroke="#111" stroke-width="0.3" fill="#111">
<text transform="translate(439.40 103.80) scale(0.66 1)" font-size="8.5">10</text>
<text transform="translate(446.20 98.70) scale(0.75 1)" font-size="7">0</text>
<text transform="translate(457.35 103.80) scale(0.66 1)" font-size="8.5">10</text>
<text transform="translate(464.15 98.70) scale(0.75 1)" font-size="7">1</text>
<text transform="translate(475.30 103.80) scale(0.66 1)" font-size="8.5">10</text>
<text transform="translate(482.10 98.70) scale(0.75 1)" font-size="7">2</text>
<text transform="translate(493.25 103.80) scale(0.66 1)" font-size="8.5">10</text>
<text transform="translate(500.05 98.70) scale(0.75 1)" font-size="7">3</text>
<text transform="translate(511.20 103.80) scale(0.66 1)" font-size="8.5">10</text>
<text transform="translate(518.00 98.70) scale(0.75 1)" font-size="7">4</text>
<text transform="translate(478.80 111.00) scale(0.7 1)" font-size="8.7" stroke-width="0.2" text-anchor="middle">FL1-H</text>
<text transform="translate(439.00 99.60) scale(0.85 1) rotate(-90)" font-size="8.3">10</text>
<text transform="translate(434.90 89.20) scale(0.9 1) rotate(-90)" font-size="7.6">0</text>
<text transform="translate(439.00 83.54) scale(0.85 1) rotate(-90)" font-size="8.3">10</text>
<text transform="translate(439.00 67.47) scale(0.85 1) rotate(-90)" font-size="8.3">10</text>
<text transform="translate(434.90 57.07) scale(0.9 1) rotate(-90)" font-size="7.6">2</text>
<text transform="translate(439.00 51.41) scale(0.85 1) rotate(-90)" font-size="8.3">10</text>
<text transform="translate(434.90 41.01) scale(0.9 1) rotate(-90)" font-size="7.6">3</text>
<text transform="translate(439.00 35.35) scale(0.85 1) rotate(-90)" font-size="8.3">10</text>
<text transform="translate(434.90 24.95) scale(0.9 1) rotate(-90)" font-size="7.6">4</text>
<text transform="translate(430.60 59.97) rotate(-90) scale(0.9 1.05)" font-size="8" stroke-width="0.2" text-anchor="middle">FL2-H</text>
</g>
<text x="489.3" y="40.9" font-family="'Liberation Serif', 'Times New Roman', serif" font-size="10" fill="#111" stroke="#111" stroke-width="0.15">0.5 %</text>
</g>
<g>
<rect x="48.5" y="158.5" width="71" height="64" fill="none" stroke="#222" stroke-width="1"/>
<path d="M71.5 158.5V222.5M48.5 192.5H119.5" stroke="#2a2a2a" stroke-width="0.95" fill="none"/>
<path d="M65 191.5h1M74 192.5h1M77 192.5h1M59 193.5h1M77 193.5h1M84 193.5h1M87 193.5h1M53 194.5h2M57 194.5h5M69 194.5h2M80 194.5h1M84 194.5h1M86 194.5h1M52 195.5h4M57 195.5h3M62 195.5h1M64 195.5h1M69 195.5h4M75 195.5h1M78 195.5h3M82 195.5h3M88 195.5h2M52 196.5h3M59 196.5h4M67 196.5h5M73 196.5h1M75 196.5h1M78 196.5h3M84 196.5h5M59 197.5h2M62 197.5h1M66 197.5h6M73 197.5h1M76 197.5h1M78 197.5h11M91 197.5h1M53 198.5h1M56 198.5h2M62 198.5h2M70 198.5h1M72 198.5h3M76 198.5h1M79 198.5h4M86 198.5h6M93 198.5h1M98 198.5h1M55 199.5h4M60 199.5h6M68 199.5h8M80 199.5h3M86 199.5h6M93 199.5h1M50 200.5h1M52 200.5h5M58 200.5h20M79 200.5h11M49 201.5h4M54 201.5h30M85 201.5h5M50 202.5h41M50 203.5h42M50 204.5h41M50 205.5h9M60 205.5h11M72 205.5h22M50 206.5h8M59 206.5h4M64 206.5h7M72 206.5h22M97 206.5h1M50 207.5h23M74 207.5h19M50 208.5h22M75 208.5h21M49 209.5h46M49 210.5h43M49 211.5h30M80 211.5h13M94 211.5h1M49 212.5h2M55 212.5h16M72 212.5h4M77 212.5h1M79 212.5h16M49 213.5h1M51 213.5h13M65 213.5h1M68 213.5h2M75 213.5h17M93 213.5h1M51 214.5h1M54 214.5h1M56 214.5h3M60 214.5h5M67 214.5h1M72 214.5h1M75 214.5h19M56 215.5h10M68 215.5h1M70 215.5h1M72 215.5h2M76 215.5h1M80 215.5h14M49 216.5h1M55 216.5h11M67 216.5h1M69 216.5h1M71 216.5h1M73 216.5h1M77 216.5h1M80 216.5h14M51 217.5h1M55 217.5h11M67 217.5h1M69 217.5h2M72 217.5h2M75 217.5h1M78 217.5h1M80 217.5h10M92 217.5h1M50 218.5h1M55 218.5h8M65 218.5h2M71 218.5h2M75 218.5h1M79 218.5h4M84 218.5h7M92 218.5h1M51 219.5h2M54 219.5h12M67 219.5h2M71 219.5h3M80 219.5h2M83 219.5h1M85 219.5h5M91 219.5h2M52 220.5h18M72 220.5h5M78 220.5h13M50 221.5h11M62 221.5h4M68 221.5h14M83 221.5h7M49 222.5h2M52 222.5h2M55 222.5h4M61 222.5h3M65 222.5h4M70 222.5h10M82 222.5h4M89 222.5h2" stroke="#000" stroke-width="1" fill="none" filter="url(#sf)"/>
<path d="M77.9 194.3h1M59.5 194.3h1M68.9 193.0h1M62.4 195.6h1M55.4 195.2h1M56.4 196.4h1M67.0 197.4h1M71.1 195.1h1M59.8 192.2h1M67.1 194.6h1M58.9 195.8h1M60.3 193.6h1M62.0 193.5h1M67.9 195.4h1M64.2 194.0h1M67.0 196.5h1M75.3 192.5h1M55.1 195.4h1M60.6 194.2h1M56.2 195.3h1M70.6 197.2h1M83.0 196.1h1M82.2 194.3h1M91.6 195.2h1M97.1 195.3h1M70.0 194.8h1M89.7 196.6h1M71.2 197.0h1M82.2 194.2h1M92.8 194.1h1M78.3 196.2h1M81.1 194.5h1M51.8 179.6h1M58.4 181.3h1M55.1 182.9h1M50.2 183.7h1M62.5 183.7h1M56.7 185.4h1M61.7 184.5h1M52.6 187.0h1M59.2 187.0h1M64.1 187.0h1M55.1 188.6h1M60.8 189.1h1M51.0 189.5h1M64.9 189.8h1M57.6 190.3h1M71.5 176.0h1M81.3 177.6h1M83.8 179.3h1M78.9 180.4h1M76.4 183.7h1M89.5 183.7h1M87.9 187.0h1M72.3 187.8h1M87.1 189.8h1" stroke="#1a1a1a" stroke-width="1" fill="none"/>
<path d="M48.80 222.70v3M48.80 222.70h-3M54.14 222.70v1.8M48.80 217.89h-1.8M57.27 222.70v1.8M48.80 215.08h-1.8M59.49 222.70v1.8M48.80 213.09h-1.8M61.21 222.70v1.8M48.80 211.54h-1.8M62.61 222.70v1.8M48.80 210.28h-1.8M63.80 222.70v1.8M48.80 209.21h-1.8M64.83 222.70v1.8M48.80 208.28h-1.8M65.74 222.70v1.8M48.80 207.47h-1.8M66.55 222.70v3M48.80 206.74h-3M71.89 222.70v1.8M48.80 201.93h-1.8M75.02 222.70v1.8M48.80 199.12h-1.8M77.24 222.70v1.8M48.80 197.13h-1.8M78.96 222.70v1.8M48.80 195.58h-1.8M80.36 222.70v1.8M48.80 194.32h-1.8M81.55 222.70v1.8M48.80 193.25h-1.8M82.58 222.70v1.8M48.80 192.32h-1.8M83.49 222.70v1.8M48.80 191.51h-1.8M84.30 222.70v3M48.80 190.77h-3M89.64 222.70v1.8M48.80 185.97h-1.8M92.77 222.70v1.8M48.80 183.16h-1.8M94.99 222.70v1.8M48.80 181.16h-1.8M96.71 222.70v1.8M48.80 179.62h-1.8M98.11 222.70v1.8M48.80 178.35h-1.8M99.30 222.70v1.8M48.80 177.29h-1.8M100.33 222.70v1.8M48.80 176.36h-1.8M101.24 222.70v1.8M48.80 175.54h-1.8M102.05 222.70v3M48.80 174.81h-3M107.39 222.70v1.8M48.80 170.01h-1.8M110.52 222.70v1.8M48.80 167.20h-1.8M112.74 222.70v1.8M48.80 165.20h-1.8M114.46 222.70v1.8M48.80 163.66h-1.8M115.86 222.70v1.8M48.80 162.39h-1.8M117.05 222.70v1.8M48.80 161.32h-1.8M118.08 222.70v1.8M48.80 160.40h-1.8M118.99 222.70v1.8M48.80 159.58h-1.8M119.80 222.70v3M48.80 158.85h-3" stroke="#111" stroke-width="0.95" fill="none"/>
<g font-family="'Liberation Sans', Arial, sans-serif" font-weight="normal" stroke="#111" stroke-width="0.3" fill="#111">
<text transform="translate(44.30 235.40) scale(0.66 1)" font-size="8.5">10</text>
<text transform="translate(51.10 230.30) scale(0.75 1)" font-size="7">0</text>
<text transform="translate(62.05 235.40) scale(0.66 1)" font-size="8.5">10</text>
<text transform="translate(68.85 230.30) scale(0.75 1)" font-size="7">1</text>
<text transform="translate(79.80 235.40) scale(0.66 1)" font-size="8.5">10</text>
<text transform="translate(86.60 230.30) scale(0.75 1)" font-size="7">2</text>
<text transform="translate(97.55 235.40) scale(0.66 1)" font-size="8.5">10</text>
<text transform="translate(104.35 230.30) scale(0.75 1)" font-size="7">3</text>
<text transform="translate(115.30 235.40) scale(0.66 1)" font-size="8.5">10</text>
<text transform="translate(122.10 230.30) scale(0.75 1)" font-size="7">4</text>
<text transform="translate(83.30 242.60) scale(0.7 1)" font-size="8.7" stroke-width="0.2" text-anchor="middle">FL1-H</text>
<text transform="translate(43.90 231.20) scale(0.85 1) rotate(-90)" font-size="8.3">10</text>
<text transform="translate(39.80 220.80) scale(0.9 1) rotate(-90)" font-size="7.6">0</text>
<text transform="translate(43.90 215.24) scale(0.85 1) rotate(-90)" font-size="8.3">10</text>
<text transform="translate(43.90 199.27) scale(0.85 1) rotate(-90)" font-size="8.3">10</text>
<text transform="translate(39.80 188.87) scale(0.9 1) rotate(-90)" font-size="7.6">2</text>
<text transform="translate(43.90 183.31) scale(0.85 1) rotate(-90)" font-size="8.3">10</text>
<text transform="translate(39.80 172.91) scale(0.9 1) rotate(-90)" font-size="7.6">3</text>
<text transform="translate(43.90 167.35) scale(0.85 1) rotate(-90)" font-size="8.3">10</text>
<text transform="translate(39.80 156.95) scale(0.9 1) rotate(-90)" font-size="7.6">4</text>
<text transform="translate(35.50 191.77) rotate(-90) scale(0.9 1.05)" font-size="8" stroke-width="0.2" text-anchor="middle">FL2-H</text>
</g>
<text x="90.9" y="171.8" font-family="'Liberation Serif', 'Times New Roman', serif" font-size="10" fill="#111" stroke="#111" stroke-width="0.15">0.1 %</text>
</g>
<g>
<rect x="146.5" y="158.5" width="70" height="64" fill="none" stroke="#222" stroke-width="1"/>
<path d="M167.5 158.5V222.5M146.5 190.5H216.5" stroke="#2a2a2a" stroke-width="0.95" fill="none"/>
<path d="M174 186.5h1M167 191.5h1M187 191.5h1M156 192.5h1M166 192.5h1M181 192.5h1M172 193.5h1M177 193.5h1M151 194.5h1M160 194.5h1M179 194.5h1M184 194.5h3M192 194.5h1M151 195.5h1M154 195.5h1M159 195.5h2M169 195.5h1M171 195.5h3M179 195.5h1M183 195.5h2M186 195.5h1M151 196.5h2M159 196.5h3M171 196.5h5M178 196.5h2M181 196.5h1M183 196.5h2M190 196.5h1M160 197.5h3M167 197.5h2M170 197.5h6M178 197.5h1M180 197.5h5M153 198.5h1M155 198.5h1M157 198.5h9M168 198.5h6M175 198.5h2M180 198.5h6M187 198.5h1M151 199.5h5M158 199.5h7M167 199.5h11M181 199.5h5M189 199.5h1M194 199.5h1M151 200.5h15M168 200.5h20M149 201.5h1M151 201.5h15M167 201.5h1M172 201.5h15M149 202.5h8M158 202.5h11M172 202.5h11M184 202.5h2M187 202.5h1M150 203.5h19M172 203.5h18M147 204.5h1M150 204.5h20M172 204.5h9M182 204.5h8M146 205.5h1M149 205.5h1M151 205.5h9M161 205.5h28M148 206.5h1M151 206.5h11M163 206.5h7M172 206.5h17M149 207.5h39M149 208.5h16M166 208.5h3M170 208.5h5M176 208.5h2M179 208.5h1M181 208.5h8M150 209.5h17M169 209.5h21M150 210.5h20M172 210.5h5M178 210.5h4M183 210.5h8M150 211.5h16M173 211.5h4M178 211.5h12M150 212.5h17M168 212.5h1M170 212.5h17M188 212.5h2M191 212.5h1M194 212.5h1M151 213.5h15M171 213.5h18M148 214.5h1M150 214.5h18M171 214.5h6M180 214.5h9M151 215.5h16M175 215.5h3M180 215.5h7M150 216.5h1M152 216.5h8M161 216.5h6M175 216.5h1M180 216.5h7M188 216.5h1M150 217.5h17M168 217.5h1M173 217.5h1M175 217.5h1M177 217.5h3M182 217.5h5M150 218.5h1M152 218.5h10M163 218.5h3M167 218.5h1M173 218.5h2M177 218.5h11M149 219.5h1M152 219.5h18M173 219.5h1M175 219.5h12M147 220.5h1M152 220.5h1M154 220.5h16M176 220.5h2M179 220.5h7M155 221.5h16M174 221.5h2M177 221.5h10M190 221.5h1" stroke="#000" stroke-width="1" fill="none" filter="url(#sf)"/>
<path d="M177.0 191.7h1M186.7 192.3h1M175.4 192.4h1M153.8 191.4h1M167.7 192.4h1M167.3 194.1h1M163.8 192.8h1M152.7 193.4h1M166.4 192.6h1M165.5 192.5h1M179.0 194.0h1M186.2 194.8h1M172.2 191.0h1M175.8 192.2h1M187.2 192.0h1M161.1 192.3h1M161.9 179.3h1M155.4 183.7h1M153.7 185.4h1M161.1 185.4h1M157.8 187.8h1M161.9 187.0h1M157.0 189.8h1M160.3 190.3h1M178.3 169.4h1M180.8 171.4h1M168.5 172.2h1M177.5 179.6h1M181.6 178.8h1M175.9 184.5h1M173.4 185.4h1M181.6 182.9h1M182.4 186.2h1M171.0 187.8h1M180.8 188.6h1" stroke="#1a1a1a" stroke-width="1" fill="none"/>
<path d="M146.10 222.10v3M146.10 222.10h-3M151.40 222.10v1.8M146.10 217.28h-1.8M154.50 222.10v1.8M146.10 214.45h-1.8M156.70 222.10v1.8M146.10 212.45h-1.8M158.40 222.10v1.8M146.10 210.90h-1.8M159.80 222.10v1.8M146.10 209.63h-1.8M160.97 222.10v1.8M146.10 208.56h-1.8M161.99 222.10v1.8M146.10 207.63h-1.8M162.89 222.10v1.8M146.10 206.81h-1.8M163.70 222.10v3M146.10 206.07h-3M169.00 222.10v1.8M146.10 201.25h-1.8M172.10 222.10v1.8M146.10 198.43h-1.8M174.30 222.10v1.8M146.10 196.43h-1.8M176.00 222.10v1.8M146.10 194.87h-1.8M177.40 222.10v1.8M146.10 193.61h-1.8M178.57 222.10v1.8M146.10 192.53h-1.8M179.59 222.10v1.8M146.10 191.60h-1.8M180.49 222.10v1.8M146.10 190.78h-1.8M181.30 222.10v3M146.10 190.05h-3M186.60 222.10v1.8M146.10 185.23h-1.8M189.70 222.10v1.8M146.10 182.40h-1.8M191.90 222.10v1.8M146.10 180.40h-1.8M193.60 222.10v1.8M146.10 178.85h-1.8M195.00 222.10v1.8M146.10 177.58h-1.8M196.17 222.10v1.8M146.10 176.51h-1.8M197.19 222.10v1.8M146.10 175.58h-1.8M198.09 222.10v1.8M146.10 174.76h-1.8M198.90 222.10v3M146.10 174.03h-3M204.20 222.10v1.8M146.10 169.20h-1.8M207.30 222.10v1.8M146.10 166.38h-1.8M209.50 222.10v1.8M146.10 164.38h-1.8M211.20 222.10v1.8M146.10 162.82h-1.8M212.60 222.10v1.8M146.10 161.56h-1.8M213.77 222.10v1.8M146.10 160.48h-1.8M214.79 222.10v1.8M146.10 159.55h-1.8M215.69 222.10v1.8M146.10 158.73h-1.8M216.50 222.10v3M146.10 158.00h-3" stroke="#111" stroke-width="0.95" fill="none"/>
<g font-family="'Liberation Sans', Arial, sans-serif" font-weight="normal" stroke="#111" stroke-width="0.3" fill="#111">
<text transform="translate(141.60 234.80) scale(0.66 1)" font-size="8.5">10</text>
<text transform="translate(148.40 229.70) scale(0.75 1)" font-size="7">0</text>
<text transform="translate(159.20 234.80) scale(0.66 1)" font-size="8.5">10</text>
<text transform="translate(166.00 229.70) scale(0.75 1)" font-size="7">1</text>
<text transform="translate(176.80 234.80) scale(0.66 1)" font-size="8.5">10</text>
<text transform="translate(183.60 229.70) scale(0.75 1)" font-size="7">2</text>
<text transform="translate(194.40 234.80) scale(0.66 1)" font-size="8.5">10</text>
<text transform="translate(201.20 229.70) scale(0.75 1)" font-size="7">3</text>
<text transform="translate(212.00 234.80) scale(0.66 1)" font-size="8.5">10</text>
<text transform="translate(218.80 229.70) scale(0.75 1)" font-size="7">4</text>
<text transform="translate(180.30 242.00) scale(0.7 1)" font-size="8.7" stroke-width="0.2" text-anchor="middle">FL1-H</text>
<text transform="translate(141.20 230.60) scale(0.85 1) rotate(-90)" font-size="8.3">10</text>
<text transform="translate(137.10 220.20) scale(0.9 1) rotate(-90)" font-size="7.6">0</text>
<text transform="translate(141.20 214.57) scale(0.85 1) rotate(-90)" font-size="8.3">10</text>
<text transform="translate(141.20 198.55) scale(0.85 1) rotate(-90)" font-size="8.3">10</text>
<text transform="translate(137.10 188.15) scale(0.9 1) rotate(-90)" font-size="7.6">2</text>
<text transform="translate(141.20 182.53) scale(0.85 1) rotate(-90)" font-size="8.3">10</text>
<text transform="translate(137.10 172.12) scale(0.9 1) rotate(-90)" font-size="7.6">3</text>
<text transform="translate(141.20 166.50) scale(0.85 1) rotate(-90)" font-size="8.3">10</text>
<text transform="translate(137.10 156.10) scale(0.9 1) rotate(-90)" font-size="7.6">4</text>
<text transform="translate(132.80 191.05) rotate(-90) scale(0.9 1.05)" font-size="8" stroke-width="0.2" text-anchor="middle">FL2-H</text>
</g>
<text x="187" y="171.2" font-family="'Liberation Serif', 'Times New Roman', serif" font-size="10" fill="#111" stroke="#111" stroke-width="0.15">0.1 %</text>
</g>
<g>
<rect x="243.5" y="158.5" width="71" height="64" fill="none" stroke="#222" stroke-width="1"/>
<path d="M265.5 158.5V222.5M243.5 192.5H314.5" stroke="#2a2a2a" stroke-width="0.95" fill="none"/>
<path d="M274 188.5h1M277 189.5h1M269 190.5h1M258 191.5h1M272 191.5h1M257 192.5h1M266 192.5h1M271 192.5h1M251 193.5h1M254 193.5h1M282 193.5h1M260 194.5h2M268 194.5h1M270 194.5h2M279 194.5h1M246 195.5h1M249 195.5h1M253 195.5h2M259 195.5h1M265 195.5h1M277 195.5h2M280 195.5h4M249 196.5h1M253 196.5h8M263 196.5h5M276 196.5h9M252 197.5h14M267 197.5h2M275 197.5h10M249 198.5h1M251 198.5h19M274 198.5h10M285 198.5h1M250 199.5h25M276 199.5h2M279 199.5h4M284 199.5h1M289 199.5h1M249 200.5h21M271 200.5h3M275 200.5h7M283 200.5h1M285 200.5h1M287 200.5h1M250 201.5h20M271 201.5h12M284 201.5h3M249 202.5h10M260 202.5h10M271 202.5h13M285 202.5h1M249 203.5h21M271 203.5h7M279 203.5h7M250 204.5h9M260 204.5h25M286 204.5h2M249 205.5h3M253 205.5h35M249 206.5h30M280 206.5h6M249 207.5h3M253 207.5h24M278 207.5h6M285 207.5h1M249 208.5h37M289 208.5h1M250 209.5h23M274 209.5h1M276 209.5h1M278 209.5h5M246 210.5h1M249 210.5h25M275 210.5h1M277 210.5h1M279 210.5h5M285 210.5h1M247 211.5h1M249 211.5h2M252 211.5h15M268 211.5h1M270 211.5h3M274 211.5h1M276 211.5h10M247 212.5h1M250 212.5h18M272 212.5h1M276 212.5h2M280 212.5h5M250 213.5h16M270 213.5h1M272 213.5h1M275 213.5h1M279 213.5h6M288 213.5h1M252 214.5h8M261 214.5h6M268 214.5h4M274 214.5h1M281 214.5h2M250 215.5h1M252 215.5h9M262 215.5h7M271 215.5h1M273 215.5h3M280 215.5h1M251 216.5h9M261 216.5h6M268 216.5h1M270 216.5h2M275 216.5h2M278 216.5h1M281 216.5h2M250 217.5h15M266 217.5h1M268 217.5h1M271 217.5h3M277 217.5h1M282 217.5h2M250 218.5h6M257 218.5h8M266 218.5h1M270 218.5h2M273 218.5h2M277 218.5h2M281 218.5h2M253 219.5h15M269 219.5h1M271 219.5h1M280 219.5h3M253 220.5h18M273 220.5h9M253 221.5h5M259 221.5h2M262 221.5h2M266 221.5h9M277 221.5h5M254 222.5h10M265 222.5h4M270 222.5h5M276 222.5h2M279 222.5h2" stroke="#000" stroke-width="1" fill="none" filter="url(#sf)"/>
<path d="M252.0 188.7h1M264.2 185.5h1M263.9 187.0h1M251.9 185.0h1M259.8 191.1h1M261.8 189.8h1M258.6 187.8h1M250.8 180.8h1M257.0 188.0h1M263.0 183.8h1M260.5 183.1h1M267.5 188.2h1M257.4 185.1h1M259.8 185.1h1M257.1 187.8h1M263.1 182.1h1M252.7 182.6h1M252.6 186.3h1M259.9 183.0h1M260.0 191.4h1M262.3 180.4h1M254.7 185.7h1M255.2 176.4h1M263.6 185.0h1M251.0 188.4h1M258.6 190.4h1M258.7 182.6h1M260.3 190.2h1M258.7 184.8h1M254.7 186.5h1M258.5 190.8h1M258.7 189.1h1M258.9 187.3h1M260.3 179.0h1M262.6 181.3h1M262.2 183.6h1M252.3 177.6h1M256.2 191.8h1M256.0 181.2h1M268.2 188.5h1M262.5 183.5h1M262.6 187.3h1M256.7 181.2h1M256.3 187.0h1M252.0 192.3h1M257.4 191.7h1M252.6 186.8h1M251.3 189.1h1M251.4 185.0h1M254.5 183.3h1M273.6 174.7h1M276.5 184.2h1M282.2 174.7h1M277.9 179.3h1M270.2 178.8h1M268.5 174.0h1M281.1 184.8h1M281.3 180.6h1M279.4 176.6h1M273.8 168.6h1M277.9 174.2h1M275.9 180.6h1M272.3 173.2h1M278.6 166.0h1M273.7 171.1h1M273.3 173.7h1M279.6 177.1h1M273.2 183.5h1M276.1 171.7h1M268.2 174.6h1M278.0 182.9h1M275.2 178.7h1M272.3 169.2h1M283.3 177.6h1M272.2 186.1h1M277.2 176.3h1M277.5 179.9h1M269.2 184.6h1M269.2 179.3h1M282.3 183.7h1M276.9 172.6h1M275.9 173.7h1M276.1 178.4h1M281.2 180.7h1M277.2 173.6h1M279.0 177.6h1M279.5 170.5h1M270.7 170.5h1M277.2 178.2h1M272.7 175.7h1M276.8 178.7h1M274.0 181.2h1M279.4 172.5h1M271.6 174.0h1M273.3 178.7h1M275.8 178.8h1M272.6 173.4h1M274.4 173.6h1M276.1 177.0h1M275.6 175.5h1M280.2 171.3h1M274.8 181.9h1M275.8 186.9h1M277.2 176.2h1M277.4 177.9h1M272.8 177.7h1M276.1 180.6h1M283.5 182.5h1M269.5 169.9h1M278.1 169.7h1M272.9 172.3h1M283.2 173.9h1M277.9 167.6h1M279.0 174.7h1M275.8 180.7h1M273.5 186.8h1M278.5 169.3h1M274.5 172.1h1M272.2 179.1h1M268.6 177.2h1M270.4 171.9h1M277.5 175.6h1M273.8 173.0h1M273.7 179.3h1M283.1 182.0h1M276.0 177.3h1M275.5 181.4h1M276.0 174.3h1M273.2 168.3h1M278.2 174.0h1M277.3 173.6h1M277.7 180.0h1M278.3 179.1h1M281.7 182.7h1M279.7 181.7h1M273.9 187.1h1M279.7 181.1h1M270.5 165.8h1M279.6 174.5h1M273.5 178.9h1M276.5 181.8h1M275.4 178.7h1M276.2 173.8h1M284.1 181.8h1M273.8 177.7h1M277.7 171.1h1M273.4 174.6h1M276.1 179.3h1M267.3 175.8h1M275.6 183.3h1M275.5 170.0h1M271.0 166.5h1M278.6 177.5h1M273.3 170.6h1M274.7 175.5h1M263.2 192.7h1M265.7 192.3h1M254.1 195.9h1M249.3 192.7h1M254.8 194.6h1M253.1 191.3h1M265.1 193.1h1M278.0 191.4h1M279.0 194.4h1M268.1 193.7h1M266.1 192.9h1M260.1 192.7h1M259.4 193.1h1M268.0 192.0h1M271.9 193.3h1M269.1 193.3h1M273.5 193.9h1M258.0 194.3h1M274.1 193.9h1M273.2 193.6h1M280.4 193.5h1M274.7 191.8h1M265.8 195.4h1M265.8 191.6h1" stroke="#1a1a1a" stroke-width="1" fill="none"/>
<path d="M243.90 222.70v3M243.90 222.70h-3M249.18 222.70v1.8M243.90 217.86h-1.8M252.26 222.70v1.8M243.90 215.03h-1.8M254.45 222.70v1.8M243.90 213.02h-1.8M256.15 222.70v1.8M243.90 211.46h-1.8M257.54 222.70v1.8M243.90 210.19h-1.8M258.71 222.70v1.8M243.90 209.12h-1.8M259.73 222.70v1.8M243.90 208.18h-1.8M260.62 222.70v1.8M243.90 207.36h-1.8M261.43 222.70v3M243.90 206.62h-3M266.70 222.70v1.8M243.90 201.79h-1.8M269.79 222.70v1.8M243.90 198.96h-1.8M271.98 222.70v1.8M243.90 196.95h-1.8M273.67 222.70v1.8M243.90 195.39h-1.8M275.06 222.70v1.8M243.90 194.12h-1.8M276.24 222.70v1.8M243.90 193.04h-1.8M277.25 222.70v1.8M243.90 192.11h-1.8M278.15 222.70v1.8M243.90 191.29h-1.8M278.95 222.70v3M243.90 190.55h-3M284.23 222.70v1.8M243.90 185.71h-1.8M287.31 222.70v1.8M243.90 182.88h-1.8M289.50 222.70v1.8M243.90 180.87h-1.8M291.20 222.70v1.8M243.90 179.31h-1.8M292.59 222.70v1.8M243.90 178.04h-1.8M293.76 222.70v1.8M243.90 176.97h-1.8M294.78 222.70v1.8M243.90 176.03h-1.8M295.67 222.70v1.8M243.90 175.21h-1.8M296.48 222.70v3M243.90 174.47h-3M301.75 222.70v1.8M243.90 169.64h-1.8M304.84 222.70v1.8M243.90 166.81h-1.8M307.03 222.70v1.8M243.90 164.80h-1.8M308.72 222.70v1.8M243.90 163.24h-1.8M310.11 222.70v1.8M243.90 161.97h-1.8M311.29 222.70v1.8M243.90 160.89h-1.8M312.30 222.70v1.8M243.90 159.96h-1.8M313.20 222.70v1.8M243.90 159.14h-1.8M314.00 222.70v3M243.90 158.40h-3" stroke="#111" stroke-width="0.95" fill="none"/>
<g font-family="'Liberation Sans', Arial, sans-serif" font-weight="normal" stroke="#111" stroke-width="0.3" fill="#111">
<text transform="translate(239.40 235.40) scale(0.66 1)" font-size="8.5">10</text>
<text transform="translate(246.20 230.30) scale(0.75 1)" font-size="7">0</text>
<text transform="translate(256.93 235.40) scale(0.66 1)" font-size="8.5">10</text>
<text transform="translate(263.73 230.30) scale(0.75 1)" font-size="7">1</text>
<text transform="translate(274.45 235.40) scale(0.66 1)" font-size="8.5">10</text>
<text transform="translate(281.25 230.30) scale(0.75 1)" font-size="7">2</text>
<text transform="translate(291.98 235.40) scale(0.66 1)" font-size="8.5">10</text>
<text transform="translate(298.78 230.30) scale(0.75 1)" font-size="7">3</text>
<text transform="translate(309.50 235.40) scale(0.66 1)" font-size="8.5">10</text>
<text transform="translate(316.30 230.30) scale(0.75 1)" font-size="7">4</text>
<text transform="translate(277.95 242.60) scale(0.7 1)" font-size="8.7" stroke-width="0.2" text-anchor="middle">FL1-H</text>
<text transform="translate(239.00 231.20) scale(0.85 1) rotate(-90)" font-size="8.3">10</text>
<text transform="translate(234.90 220.80) scale(0.9 1) rotate(-90)" font-size="7.6">0</text>
<text transform="translate(239.00 215.12) scale(0.85 1) rotate(-90)" font-size="8.3">10</text>
<text transform="translate(239.00 199.05) scale(0.85 1) rotate(-90)" font-size="8.3">10</text>
<text transform="translate(234.90 188.65) scale(0.9 1) rotate(-90)" font-size="7.6">2</text>
<text transform="translate(239.00 182.97) scale(0.85 1) rotate(-90)" font-size="8.3">10</text>
<text transform="translate(234.90 172.57) scale(0.9 1) rotate(-90)" font-size="7.6">3</text>
<text transform="translate(239.00 166.90) scale(0.85 1) rotate(-90)" font-size="8.3">10</text>
<text transform="translate(234.90 156.50) scale(0.9 1) rotate(-90)" font-size="7.6">4</text>
<text transform="translate(230.60 191.55) rotate(-90) scale(0.9 1.05)" font-size="8" stroke-width="0.2" text-anchor="middle">FL2-H</text>
</g>
<text x="287.5" y="171.8" font-family="'Liberation Serif', 'Times New Roman', serif" font-size="10" fill="#111" stroke="#111" stroke-width="0.15">1.1 %</text>
</g>
<g>
<rect x="346.5" y="158.5" width="71" height="64" fill="none" stroke="#222" stroke-width="1"/>
<path d="M368.5 158.5V222.5M346.5 191.5H417.5" stroke="#2a2a2a" stroke-width="0.95" fill="none"/>
<path d="M379 185.5h1M354 190.5h1M350 192.5h1M368 192.5h1M375 192.5h1M360 193.5h1M375 193.5h1M352 194.5h1M357 194.5h3M361 194.5h1M366 194.5h1M371 194.5h3M377 194.5h4M385 194.5h1M346 195.5h1M350 195.5h1M356 195.5h5M365 195.5h3M371 195.5h3M379 195.5h2M382 195.5h1M386 195.5h1M355 196.5h2M358 196.5h1M360 196.5h3M365 196.5h3M372 196.5h1M377 196.5h3M381 196.5h2M385 196.5h4M353 197.5h1M355 197.5h4M360 197.5h11M376 197.5h1M378 197.5h8M388 197.5h1M353 198.5h1M355 198.5h11M369 198.5h1M372 198.5h1M374 198.5h12M388 198.5h2M354 199.5h10M365 199.5h2M370 199.5h1M374 199.5h12M387 199.5h1M389 199.5h1M352 200.5h1M354 200.5h2M357 200.5h1M359 200.5h1M361 200.5h6M374 200.5h1M376 200.5h14M349 201.5h1M355 201.5h15M371 201.5h1M375 201.5h4M380 201.5h8M390 201.5h1M393 201.5h1M352 202.5h1M354 202.5h16M374 202.5h15M353 203.5h18M373 203.5h4M378 203.5h12M351 204.5h2M354 204.5h15M372 204.5h14M387 204.5h2M350 205.5h2M353 205.5h1M355 205.5h14M370 205.5h20M350 206.5h1M353 206.5h17M372 206.5h15M389 206.5h3M350 207.5h19M370 207.5h1M373 207.5h18M353 208.5h16M370 208.5h1M373 208.5h1M375 208.5h14M352 209.5h1M354 209.5h14M370 209.5h1M374 209.5h16M352 210.5h18M374 210.5h17M393 210.5h1M353 211.5h11M366 211.5h2M373 211.5h1M375 211.5h2M378 211.5h11M390 211.5h1M392 211.5h1M351 212.5h1M353 212.5h14M372 212.5h4M377 212.5h13M352 213.5h4M357 213.5h10M368 213.5h2M373 213.5h1M377 213.5h12M353 214.5h15M375 214.5h1M377 214.5h1M379 214.5h11M353 215.5h12M366 215.5h1M370 215.5h1M372 215.5h3M378 215.5h1M380 215.5h4M385 215.5h6M352 216.5h1M354 216.5h8M363 216.5h1M365 216.5h4M373 216.5h4M378 216.5h1M381 216.5h9M354 217.5h9M364 217.5h1M368 217.5h1M371 217.5h1M377 217.5h6M384 217.5h3M389 217.5h1M348 218.5h1M351 218.5h1M353 218.5h13M373 218.5h1M376 218.5h1M378 218.5h2M381 218.5h3M385 218.5h1M387 218.5h2M353 219.5h12M366 219.5h1M376 219.5h10M394 219.5h1M353 220.5h7M361 220.5h4M366 220.5h2M373 220.5h1M375 220.5h1M378 220.5h8M348 221.5h1M353 221.5h15M373 221.5h9M383 221.5h3M388 221.5h1M352 222.5h2M356 222.5h4M362 222.5h2M366 222.5h3M372 222.5h4M377 222.5h6M384 222.5h1M386 222.5h1M388 222.5h2" stroke="#000" stroke-width="1" fill="none" filter="url(#sf)"/>
<path d="M359.8 184.7h1M366.7 191.1h1M360.2 184.6h1M360.1 185.9h1M354.7 190.9h1M360.8 187.0h1M359.8 180.0h1M351.3 191.3h1M352.3 188.5h1M356.4 182.8h1M362.4 185.4h1M363.1 186.7h1M359.8 184.6h1M374.3 177.0h1M384.1 173.2h1M377.4 178.9h1M380.6 173.3h1M386.2 169.9h1M377.3 174.0h1M381.4 175.1h1M370.5 181.9h1M371.7 176.7h1M375.0 174.9h1M373.4 177.5h1M385.1 170.5h1M381.9 175.1h1M376.8 181.5h1M381.6 176.3h1M381.0 178.0h1M380.2 171.2h1M388.5 180.8h1M386.2 164.3h1M379.2 172.7h1M374.4 175.1h1M375.6 187.7h1M380.9 184.3h1M381.3 162.3h1M376.8 183.2h1M372.1 183.6h1M378.6 180.0h1M379.6 176.5h1M381.8 170.6h1M375.8 169.4h1M373.4 191.0h1M370.6 187.3h1M380.0 180.0h1M377.6 176.5h1M377.4 174.8h1M377.6 170.7h1M383.0 172.0h1M384.1 168.7h1M379.3 172.6h1M375.6 178.1h1M380.7 167.4h1M379.2 178.2h1M377.4 176.5h1M381.8 178.1h1M388.1 174.7h1M377.1 184.1h1M370.1 193.8h1M383.8 193.9h1M352.5 193.2h1M379.4 195.7h1M370.2 194.2h1M370.2 194.6h1M385.7 193.1h1M366.9 195.2h1M369.9 192.5h1M352.6 193.8h1M357.4 192.3h1M356.3 193.2h1M379.5 192.4h1M374.6 195.5h1M366.1 195.6h1M361.9 194.3h1M362.1 193.4h1M370.7 191.9h1M369.0 194.2h1M370.9 193.9h1M366.6 193.0h1M381.4 192.5h1M362.8 191.7h1M370.5 193.8h1" stroke="#1a1a1a" stroke-width="1" fill="none"/>
<path d="M346.50 222.50v3M346.50 222.50h-3M351.83 222.50v1.8M346.50 217.66h-1.8M354.95 222.50v1.8M346.50 214.83h-1.8M357.16 222.50v1.8M346.50 212.82h-1.8M358.87 222.50v1.8M346.50 211.26h-1.8M360.27 222.50v1.8M346.50 209.99h-1.8M361.46 222.50v1.8M346.50 208.92h-1.8M362.48 222.50v1.8M346.50 207.98h-1.8M363.39 222.50v1.8M346.50 207.16h-1.8M364.20 222.50v3M346.50 206.43h-3M369.53 222.50v1.8M346.50 201.59h-1.8M372.65 222.50v1.8M346.50 198.76h-1.8M374.86 222.50v1.8M346.50 196.75h-1.8M376.57 222.50v1.8M346.50 195.19h-1.8M377.97 222.50v1.8M346.50 193.92h-1.8M379.16 222.50v1.8M346.50 192.84h-1.8M380.18 222.50v1.8M346.50 191.91h-1.8M381.09 222.50v1.8M346.50 191.09h-1.8M381.90 222.50v3M346.50 190.35h-3M387.23 222.50v1.8M346.50 185.51h-1.8M390.35 222.50v1.8M346.50 182.68h-1.8M392.56 222.50v1.8M346.50 180.67h-1.8M394.27 222.50v1.8M346.50 179.11h-1.8M395.67 222.50v1.8M346.50 177.84h-1.8M396.86 222.50v1.8M346.50 176.77h-1.8M397.88 222.50v1.8M346.50 175.83h-1.8M398.79 222.50v1.8M346.50 175.01h-1.8M399.60 222.50v3M346.50 174.27h-3M404.93 222.50v1.8M346.50 169.44h-1.8M408.05 222.50v1.8M346.50 166.61h-1.8M410.26 222.50v1.8M346.50 164.60h-1.8M411.97 222.50v1.8M346.50 163.04h-1.8M413.37 222.50v1.8M346.50 161.77h-1.8M414.56 222.50v1.8M346.50 160.69h-1.8M415.58 222.50v1.8M346.50 159.76h-1.8M416.49 222.50v1.8M346.50 158.94h-1.8M417.30 222.50v3M346.50 158.20h-3" stroke="#111" stroke-width="0.95" fill="none"/>
<g font-family="'Liberation Sans', Arial, sans-serif" font-weight="normal" stroke="#111" stroke-width="0.3" fill="#111">
<text transform="translate(342.00 235.20) scale(0.66 1)" font-size="8.5">10</text>
<text transform="translate(348.80 230.10) scale(0.75 1)" font-size="7">0</text>
<text transform="translate(359.70 235.20) scale(0.66 1)" font-size="8.5">10</text>
<text transform="translate(366.50 230.10) scale(0.75 1)" font-size="7">1</text>
<text transform="translate(377.40 235.20) scale(0.66 1)" font-size="8.5">10</text>
<text transform="translate(384.20 230.10) scale(0.75 1)" font-size="7">2</text>
<text transform="translate(395.10 235.20) scale(0.66 1)" font-size="8.5">10</text>
<text transform="translate(401.90 230.10) scale(0.75 1)" font-size="7">3</text>
<text transform="translate(412.80 235.20) scale(0.66 1)" font-size="8.5">10</text>
<text transform="translate(419.60 230.10) scale(0.75 1)" font-size="7">4</text>
<text transform="translate(380.90 242.40) scale(0.7 1)" font-size="8.7" stroke-width="0.2" text-anchor="middle">FL1-H</text>
<text transform="translate(341.60 231.00) scale(0.85 1) rotate(-90)" font-size="8.3">10</text>
<text transform="translate(337.50 220.60) scale(0.9 1) rotate(-90)" font-size="7.6">0</text>
<text transform="translate(341.60 214.93) scale(0.85 1) rotate(-90)" font-size="8.3">10</text>
<text transform="translate(341.60 198.85) scale(0.85 1) rotate(-90)" font-size="8.3">10</text>
<text transform="translate(337.50 188.45) scale(0.9 1) rotate(-90)" font-size="7.6">2</text>
<text transform="translate(341.60 182.77) scale(0.85 1) rotate(-90)" font-size="8.3">10</text>
<text transform="translate(337.50 172.37) scale(0.9 1) rotate(-90)" font-size="7.6">3</text>
<text transform="translate(341.60 166.70) scale(0.85 1) rotate(-90)" font-size="8.3">10</text>
<text transform="translate(337.50 156.30) scale(0.9 1) rotate(-90)" font-size="7.6">4</text>
<text transform="translate(333.20 191.35) rotate(-90) scale(0.9 1.05)" font-size="8" stroke-width="0.2" text-anchor="middle">FL2-H</text>
</g>
<text x="389.3" y="172" font-family="'Liberation Serif', 'Times New Roman', serif" font-size="10" fill="#111" stroke="#111" stroke-width="0.15">0.3 %</text>
</g>
<g>
<rect x="443.5" y="158.5" width="71" height="65" fill="none" stroke="#222" stroke-width="1"/>
<path d="M465.5 158.5V223.5M443.5 192.5H514.5" stroke="#2a2a2a" stroke-width="0.95" fill="none"/>
<path d="M463 190.5h1M466 190.5h1M461 191.5h1M470 191.5h1M479 191.5h1M455 192.5h1M473 192.5h1M458 193.5h1M457 194.5h3M464 194.5h1M468 194.5h2M474 194.5h1M480 194.5h1M447 195.5h1M454 195.5h1M458 195.5h4M466 195.5h10M477 195.5h3M453 196.5h1M455 196.5h8M464 196.5h1M466 196.5h1M468 196.5h10M480 196.5h1M485 196.5h1M451 197.5h1M453 197.5h10M464 197.5h16M481 197.5h2M450 198.5h1M453 198.5h31M487 198.5h1M451 199.5h35M448 200.5h1M452 200.5h34M449 201.5h14M464 201.5h19M484 201.5h1M488 201.5h1M448 202.5h3M452 202.5h2M455 202.5h11M467 202.5h14M482 202.5h1M484 202.5h2M448 203.5h35M484 203.5h1M448 204.5h3M452 204.5h33M486 204.5h2M448 205.5h16M465 205.5h20M488 205.5h1M448 206.5h37M486 206.5h1M447 207.5h39M447 208.5h19M467 208.5h8M476 208.5h10M446 209.5h3M450 209.5h25M476 209.5h10M446 210.5h1M448 210.5h20M469 210.5h16M446 211.5h14M461 211.5h7M471 211.5h1M473 211.5h11M443 212.5h1M448 212.5h18M467 212.5h1M470 212.5h2M474 212.5h2M477 212.5h10M444 213.5h1M448 213.5h16M467 213.5h4M472 213.5h1M476 213.5h8M446 214.5h17M464 214.5h1M468 214.5h1M470 214.5h2M476 214.5h9M444 215.5h1M447 215.5h14M465 215.5h1M469 215.5h1M472 215.5h1M476 215.5h1M478 215.5h8M446 216.5h18M465 216.5h2M468 216.5h3M473 216.5h1M477 216.5h7M448 217.5h16M465 217.5h1M467 217.5h2M471 217.5h2M475 217.5h2M478 217.5h5M448 218.5h16M468 218.5h2M471 218.5h1M473 218.5h2M476 218.5h7M448 219.5h20M469 219.5h3M475 219.5h1M477 219.5h5M450 220.5h17M470 220.5h1M474 220.5h9M448 221.5h1M450 221.5h20M471 221.5h9M481 221.5h2M450 222.5h5M456 222.5h3M461 222.5h1M464 222.5h2M467 222.5h7M475 222.5h2M478 222.5h1M480 222.5h1M482 222.5h2" stroke="#000" stroke-width="1" fill="none" filter="url(#sf)"/>
<path d="M460.3 185.8h1M458.6 189.7h1M447.8 183.3h1M454.7 185.1h1M457.1 184.0h1M457.4 175.6h1M458.1 184.5h1M455.4 194.8h1M450.3 187.2h1M461.4 183.0h1M448.8 187.2h1M458.8 186.4h1M453.6 191.6h1M449.5 184.7h1M452.5 184.4h1M455.0 183.4h1M457.6 183.9h1M458.1 188.2h1M460.6 187.7h1M455.0 176.0h1M456.5 183.0h1M448.4 175.2h1M459.1 190.2h1M450.2 190.2h1M459.2 182.9h1M461.5 184.8h1M460.7 184.0h1M453.2 190.5h1M458.8 181.6h1M460.1 183.9h1M476.0 182.7h1M474.0 170.8h1M469.2 184.1h1M467.9 186.9h1M471.0 183.4h1M478.5 185.9h1M479.3 184.0h1M471.8 189.6h1M475.6 165.9h1M470.1 182.8h1M475.5 173.2h1M472.7 187.2h1M477.1 189.4h1M479.9 179.4h1M473.1 181.0h1M476.3 176.4h1M470.3 167.4h1M475.3 175.6h1M470.7 174.6h1M470.3 178.3h1M464.4 173.7h1M468.0 177.7h1M472.0 178.6h1M480.9 172.1h1M478.2 183.5h1M477.0 176.5h1M479.7 174.0h1M474.6 180.8h1M477.6 178.4h1M475.2 183.3h1M471.7 186.4h1M472.5 184.8h1M482.8 173.5h1M477.9 187.3h1M473.3 185.2h1M472.6 179.1h1M478.0 177.4h1M476.1 174.8h1M476.7 171.0h1M473.6 174.6h1M466.9 173.1h1M478.8 182.1h1M468.6 183.3h1M472.2 188.0h1M482.0 173.9h1M482.4 177.0h1M478.1 166.7h1M472.1 172.1h1M478.5 190.1h1M478.1 179.1h1M474.9 190.0h1M467.2 187.4h1M477.9 175.2h1M474.1 190.4h1M473.8 181.7h1M474.5 194.2h1M469.6 192.3h1M478.4 193.6h1M462.0 192.3h1M448.4 194.9h1M464.7 192.9h1M486.0 192.8h1M470.6 193.0h1M463.7 191.7h1M464.0 191.4h1M458.9 191.3h1M453.4 192.8h1M467.6 194.6h1M454.0 194.9h1M474.6 194.2h1M469.7 192.7h1M475.4 194.5h1M488.3 194.1h1M473.9 193.5h1M477.1 194.1h1M448.8 193.2h1M483.7 194.8h1M489.5 192.9h1M454.5 194.8h1M464.3 192.1h1M458.8 192.3h1M473.3 194.4h1M450.9 194.8h1" stroke="#1a1a1a" stroke-width="1" fill="none"/>
<path d="M443.20 223.10v3M443.20 223.10h-3M448.54 223.10v1.8M443.20 218.23h-1.8M451.67 223.10v1.8M443.20 215.38h-1.8M453.89 223.10v1.8M443.20 213.36h-1.8M455.61 223.10v1.8M443.20 211.79h-1.8M457.01 223.10v1.8M443.20 210.51h-1.8M458.20 223.10v1.8M443.20 209.43h-1.8M459.23 223.10v1.8M443.20 208.49h-1.8M460.14 223.10v1.8M443.20 207.67h-1.8M460.95 223.10v3M443.20 206.93h-3M466.29 223.10v1.8M443.20 202.06h-1.8M469.42 223.10v1.8M443.20 199.21h-1.8M471.64 223.10v1.8M443.20 197.19h-1.8M473.36 223.10v1.8M443.20 195.62h-1.8M474.76 223.10v1.8M443.20 194.34h-1.8M475.95 223.10v1.8M443.20 193.26h-1.8M476.98 223.10v1.8M443.20 192.32h-1.8M477.89 223.10v1.8M443.20 191.49h-1.8M478.70 223.10v3M443.20 190.75h-3M484.04 223.10v1.8M443.20 185.88h-1.8M487.17 223.10v1.8M443.20 183.03h-1.8M489.39 223.10v1.8M443.20 181.01h-1.8M491.11 223.10v1.8M443.20 179.44h-1.8M492.51 223.10v1.8M443.20 178.16h-1.8M493.70 223.10v1.8M443.20 177.08h-1.8M494.73 223.10v1.8M443.20 176.14h-1.8M495.64 223.10v1.8M443.20 175.32h-1.8M496.45 223.10v3M443.20 174.57h-3M501.79 223.10v1.8M443.20 169.71h-1.8M504.92 223.10v1.8M443.20 166.86h-1.8M507.14 223.10v1.8M443.20 164.84h-1.8M508.86 223.10v1.8M443.20 163.27h-1.8M510.26 223.10v1.8M443.20 161.99h-1.8M511.45 223.10v1.8M443.20 160.91h-1.8M512.48 223.10v1.8M443.20 159.97h-1.8M513.39 223.10v1.8M443.20 159.14h-1.8M514.20 223.10v3M443.20 158.40h-3" stroke="#111" stroke-width="0.95" fill="none"/>
<g font-family="'Liberation Sans', Arial, sans-serif" font-weight="normal" stroke="#111" stroke-width="0.3" fill="#111">
<text transform="translate(438.70 235.80) scale(0.66 1)" font-size="8.5">10</text>
<text transform="translate(445.50 230.70) scale(0.75 1)" font-size="7">0</text>
<text transform="translate(456.45 235.80) scale(0.66 1)" font-size="8.5">10</text>
<text transform="translate(463.25 230.70) scale(0.75 1)" font-size="7">1</text>
<text transform="translate(474.20 235.80) scale(0.66 1)" font-size="8.5">10</text>
<text transform="translate(481.00 230.70) scale(0.75 1)" font-size="7">2</text>
<text transform="translate(491.95 235.80) scale(0.66 1)" font-size="8.5">10</text>
<text transform="translate(498.75 230.70) scale(0.75 1)" font-size="7">3</text>
<text transform="translate(509.70 235.80) scale(0.66 1)" font-size="8.5">10</text>
<text transform="translate(516.50 230.70) scale(0.75 1)" font-size="7">4</text>
<text transform="translate(477.70 243.00) scale(0.7 1)" font-size="8.7" stroke-width="0.2" text-anchor="middle">FL1-H</text>
<text transform="translate(438.30 231.60) scale(0.85 1) rotate(-90)" font-size="8.3">10</text>
<text transform="translate(434.20 221.20) scale(0.9 1) rotate(-90)" font-size="7.6">0</text>
<text transform="translate(438.30 215.43) scale(0.85 1) rotate(-90)" font-size="8.3">10</text>
<text transform="translate(438.30 199.25) scale(0.85 1) rotate(-90)" font-size="8.3">10</text>
<text transform="translate(434.20 188.85) scale(0.9 1) rotate(-90)" font-size="7.6">2</text>
<text transform="translate(438.30 183.07) scale(0.85 1) rotate(-90)" font-size="8.3">10</text>
<text transform="translate(434.20 172.67) scale(0.9 1) rotate(-90)" font-size="7.6">3</text>
<text transform="translate(438.30 166.90) scale(0.85 1) rotate(-90)" font-size="8.3">10</text>
<text transform="translate(434.20 156.50) scale(0.9 1) rotate(-90)" font-size="7.6">4</text>
<text transform="translate(429.90 191.75) rotate(-90) scale(0.9 1.05)" font-size="8" stroke-width="0.2" text-anchor="middle">FL2-H</text>
</g>
<text x="489.3" y="172.5" font-family="'Liberation Serif', 'Times New Roman', serif" font-size="10" fill="#111" stroke="#111" stroke-width="0.15">0.4 %</text>
</g>
</svg>
</body></html>
